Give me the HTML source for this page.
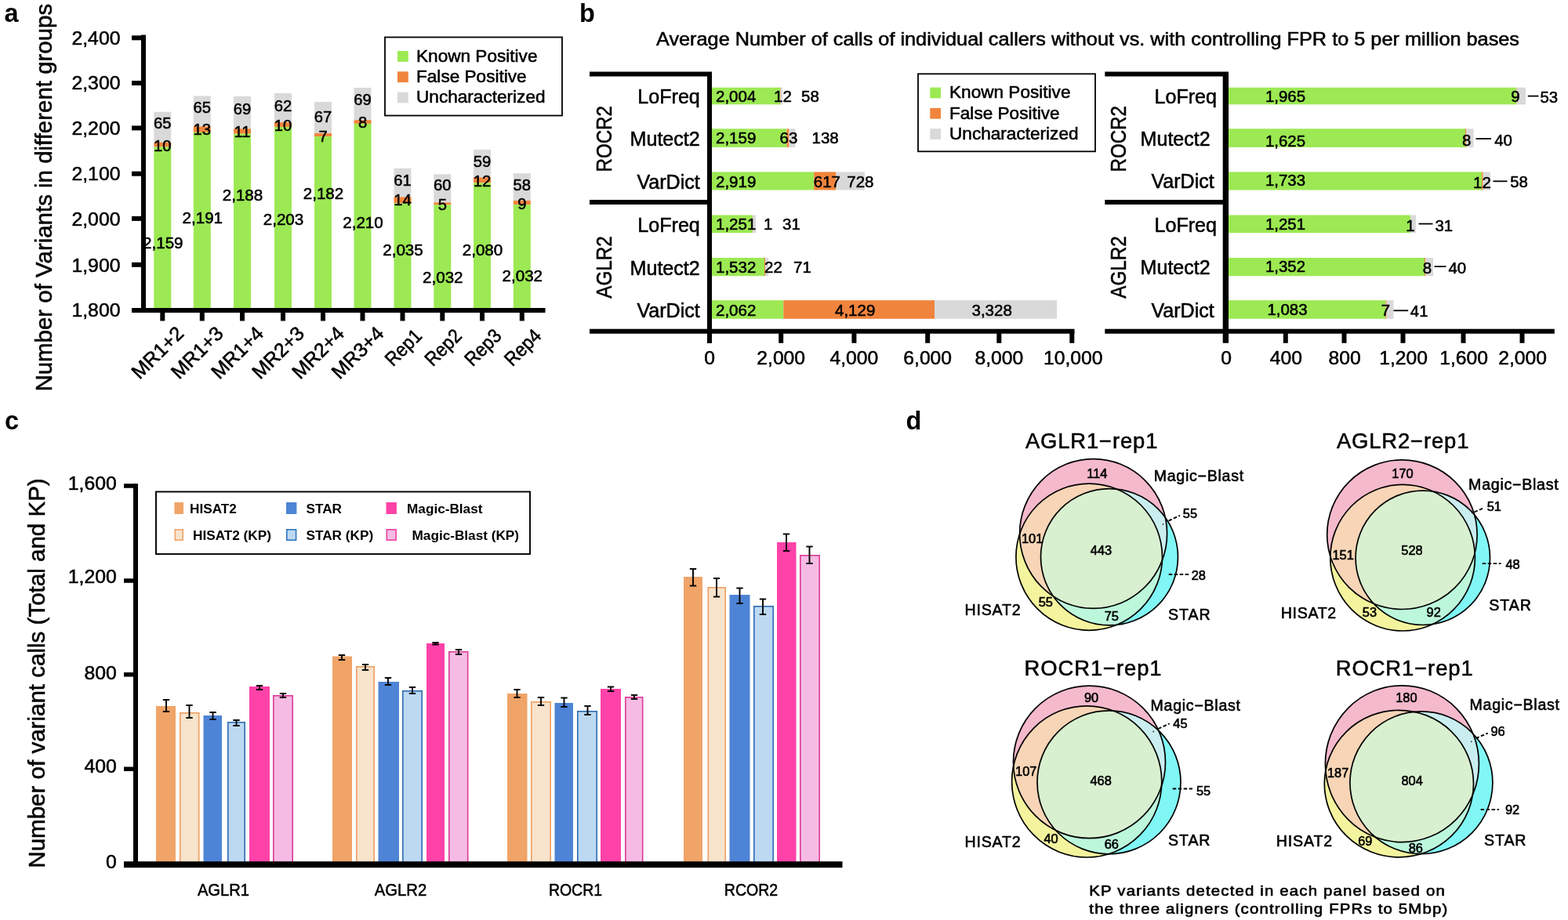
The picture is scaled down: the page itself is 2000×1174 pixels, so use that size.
<!DOCTYPE html>
<html lang="en">
<head>
<meta charset="utf-8">
<title>Figure: variant calls</title>
<style>
html,body{margin:0;padding:0;background:#fff;}
body{width:2000px;height:1174px;overflow:hidden;}
svg{display:block;font-family:'Liberation Sans', sans-serif;fill:#000;}
text{stroke:#000;stroke-width:0.55px;stroke-linejoin:round;}
text[font-weight=bold]{stroke-width:0;}
text.vb{stroke-width:0.6px;}
text.vc{stroke-width:0.6px;}
</style>
</head>
<body>
<svg width="2000" height="1174" viewBox="0 0 2000 1174">
<rect width="2000" height="1174" fill="#fff"/>
<g id="panel-a">
<text x="5.50" y="28.00" font-size="32.5" font-weight="bold">a</text>
<text transform="translate(66.30 252.20) rotate(-90)" font-size="29.45" text-anchor="middle">Number of Variants in different groups</text>
<rect x="196.30" y="142.72" width="22.00" height="38.95" fill="#d9d9d9"/>
<rect x="196.30" y="181.67" width="22.00" height="5.81" fill="#f0843c"/>
<rect x="196.30" y="187.48" width="22.00" height="208.52" fill="#9ce953"/>
<rect x="246.80" y="122.39" width="22.00" height="38.95" fill="#d9d9d9"/>
<rect x="246.80" y="161.34" width="22.00" height="7.55" fill="#f0843c"/>
<rect x="246.80" y="168.89" width="22.00" height="227.11" fill="#9ce953"/>
<rect x="298.00" y="122.97" width="22.00" height="41.28" fill="#d9d9d9"/>
<rect x="298.00" y="164.25" width="22.00" height="6.39" fill="#f0843c"/>
<rect x="298.00" y="170.64" width="22.00" height="225.36" fill="#9ce953"/>
<rect x="350.00" y="118.90" width="22.00" height="37.21" fill="#d9d9d9"/>
<rect x="350.00" y="156.12" width="22.00" height="5.81" fill="#f0843c"/>
<rect x="350.00" y="161.92" width="22.00" height="234.08" fill="#9ce953"/>
<rect x="401.00" y="129.94" width="22.00" height="40.12" fill="#d9d9d9"/>
<rect x="401.00" y="170.06" width="22.00" height="4.07" fill="#f0843c"/>
<rect x="401.00" y="174.12" width="22.00" height="221.88" fill="#9ce953"/>
<rect x="451.50" y="111.93" width="22.00" height="41.28" fill="#d9d9d9"/>
<rect x="451.50" y="153.21" width="22.00" height="4.65" fill="#f0843c"/>
<rect x="451.50" y="157.86" width="22.00" height="238.14" fill="#9ce953"/>
<rect x="502.50" y="214.74" width="22.00" height="36.63" fill="#d9d9d9"/>
<rect x="502.50" y="251.37" width="22.00" height="8.13" fill="#f0843c"/>
<rect x="502.50" y="259.50" width="22.00" height="136.50" fill="#9ce953"/>
<rect x="553.30" y="222.29" width="22.00" height="36.05" fill="#d9d9d9"/>
<rect x="553.30" y="258.34" width="22.00" height="2.90" fill="#f0843c"/>
<rect x="553.30" y="261.25" width="22.00" height="134.75" fill="#9ce953"/>
<rect x="604.00" y="190.93" width="22.00" height="35.47" fill="#d9d9d9"/>
<rect x="604.00" y="226.40" width="22.00" height="6.97" fill="#f0843c"/>
<rect x="604.00" y="233.37" width="22.00" height="162.63" fill="#9ce953"/>
<rect x="654.80" y="221.13" width="22.00" height="34.89" fill="#d9d9d9"/>
<rect x="654.80" y="256.02" width="22.00" height="5.23" fill="#f0843c"/>
<rect x="654.80" y="261.25" width="22.00" height="134.75" fill="#9ce953"/>
<text x="207.30" y="164.20" font-size="20.2" text-anchor="middle">65</text>
<text x="207.30" y="192.80" font-size="20.2" text-anchor="middle">10</text>
<text x="207.80" y="317.20" font-size="20.6" text-anchor="middle">2,159</text>
<text x="257.80" y="144.20" font-size="20.2" text-anchor="middle">65</text>
<text x="257.80" y="172.20" font-size="20.2" text-anchor="middle">13</text>
<text x="258.30" y="284.70" font-size="20.6" text-anchor="middle">2,191</text>
<text x="309.00" y="146.20" font-size="20.2" text-anchor="middle">69</text>
<text x="309.00" y="174.70" font-size="20.2" text-anchor="middle">11</text>
<text x="309.50" y="256.20" font-size="20.6" text-anchor="middle">2,188</text>
<text x="361.00" y="142.20" font-size="20.2" text-anchor="middle">62</text>
<text x="361.00" y="166.60" font-size="20.2" text-anchor="middle">10</text>
<text x="361.50" y="286.70" font-size="20.6" text-anchor="middle">2,203</text>
<text x="412.00" y="156.20" font-size="20.2" text-anchor="middle">67</text>
<text x="412.00" y="181.20" font-size="20.2" text-anchor="middle">7</text>
<text x="412.50" y="254.20" font-size="20.6" text-anchor="middle">2,182</text>
<text x="462.50" y="133.70" font-size="20.2" text-anchor="middle">69</text>
<text x="462.50" y="163.20" font-size="20.2" text-anchor="middle">8</text>
<text x="463.00" y="291.20" font-size="20.6" text-anchor="middle">2,210</text>
<text x="513.50" y="237.20" font-size="20.2" text-anchor="middle">61</text>
<text x="513.50" y="261.60" font-size="20.2" text-anchor="middle">14</text>
<text x="514.00" y="326.20" font-size="20.6" text-anchor="middle">2,035</text>
<text x="564.30" y="242.80" font-size="20.2" text-anchor="middle">60</text>
<text x="564.30" y="267.80" font-size="20.2" text-anchor="middle">5</text>
<text x="564.80" y="361.20" font-size="20.6" text-anchor="middle">2,032</text>
<text x="615.00" y="212.80" font-size="20.2" text-anchor="middle">59</text>
<text x="615.00" y="237.80" font-size="20.2" text-anchor="middle">12</text>
<text x="615.50" y="326.20" font-size="20.6" text-anchor="middle">2,080</text>
<text x="665.80" y="242.80" font-size="20.2" text-anchor="middle">58</text>
<text x="665.80" y="266.60" font-size="20.2" text-anchor="middle">9</text>
<text x="666.30" y="359.20" font-size="20.6" text-anchor="middle">2,032</text>
<line x1="183.00" y1="44.50" x2="183.00" y2="399.00" stroke="#000" stroke-width="6"/>
<line x1="168.00" y1="396.00" x2="695.50" y2="396.00" stroke="#000" stroke-width="6"/>
<line x1="168.00" y1="396.00" x2="183.00" y2="396.00" stroke="#000" stroke-width="6"/>
<text x="153.50" y="403.50" font-size="24.8" text-anchor="end">1,800</text>
<line x1="168.00" y1="337.80" x2="183.00" y2="337.80" stroke="#000" stroke-width="6"/>
<text x="153.50" y="346.90" font-size="24.8" text-anchor="end">1,900</text>
<line x1="168.00" y1="278.90" x2="183.00" y2="278.90" stroke="#000" stroke-width="6"/>
<text x="153.50" y="288.30" font-size="24.8" text-anchor="end">2,000</text>
<line x1="168.00" y1="221.70" x2="183.00" y2="221.70" stroke="#000" stroke-width="6"/>
<text x="153.50" y="230.30" font-size="24.8" text-anchor="end">2,100</text>
<line x1="168.00" y1="163.40" x2="183.00" y2="163.40" stroke="#000" stroke-width="6"/>
<text x="153.50" y="172.20" font-size="24.8" text-anchor="end">2,200</text>
<line x1="168.00" y1="106.00" x2="183.00" y2="106.00" stroke="#000" stroke-width="6"/>
<text x="153.50" y="113.80" font-size="24.8" text-anchor="end">2,300</text>
<line x1="168.00" y1="48.30" x2="183.00" y2="48.30" stroke="#000" stroke-width="6"/>
<text x="153.50" y="56.80" font-size="24.8" text-anchor="end">2,400</text>
<line x1="207.30" y1="396.00" x2="207.30" y2="409.50" stroke="#000" stroke-width="6"/>
<text transform="translate(235.90 427.20) rotate(-45)" font-size="25.2" text-anchor="end">MR1+2</text>
<line x1="257.80" y1="396.00" x2="257.80" y2="409.50" stroke="#000" stroke-width="6"/>
<text transform="translate(286.40 427.20) rotate(-45)" font-size="25.2" text-anchor="end">MR1+3</text>
<line x1="309.00" y1="396.00" x2="309.00" y2="409.50" stroke="#000" stroke-width="6"/>
<text transform="translate(337.60 427.20) rotate(-45)" font-size="25.2" text-anchor="end">MR1+4</text>
<line x1="361.00" y1="396.00" x2="361.00" y2="409.50" stroke="#000" stroke-width="6"/>
<text transform="translate(389.60 427.20) rotate(-45)" font-size="25.2" text-anchor="end">MR2+3</text>
<line x1="412.00" y1="396.00" x2="412.00" y2="409.50" stroke="#000" stroke-width="6"/>
<text transform="translate(440.60 427.20) rotate(-45)" font-size="25.2" text-anchor="end">MR2+4</text>
<line x1="462.50" y1="396.00" x2="462.50" y2="409.50" stroke="#000" stroke-width="6"/>
<text transform="translate(491.10 427.20) rotate(-45)" font-size="25.2" text-anchor="end">MR3+4</text>
<line x1="513.50" y1="396.00" x2="513.50" y2="409.50" stroke="#000" stroke-width="6"/>
<text transform="translate(539.70 430.00) rotate(-45)" font-size="25" text-anchor="end" textLength="54.5" lengthAdjust="spacingAndGlyphs">Rep1</text>
<line x1="564.30" y1="396.00" x2="564.30" y2="409.50" stroke="#000" stroke-width="6"/>
<text transform="translate(590.50 430.00) rotate(-45)" font-size="25" text-anchor="end" textLength="54.5" lengthAdjust="spacingAndGlyphs">Rep2</text>
<line x1="615.00" y1="396.00" x2="615.00" y2="409.50" stroke="#000" stroke-width="6"/>
<text transform="translate(641.20 430.00) rotate(-45)" font-size="25" text-anchor="end" textLength="54.5" lengthAdjust="spacingAndGlyphs">Rep3</text>
<line x1="665.80" y1="396.00" x2="665.80" y2="409.50" stroke="#000" stroke-width="6"/>
<text transform="translate(692.00 430.00) rotate(-45)" font-size="25" text-anchor="end" textLength="54.5" lengthAdjust="spacingAndGlyphs">Rep4</text>
<rect x="491.00" y="47.50" width="226.00" height="100.00" fill="#fff" stroke="#000" stroke-width="1.8"/>
<rect x="507.00" y="65.00" width="13.80" height="13.80" fill="#9ce953"/>
<text x="531.00" y="78.80" font-size="22.6">Known Positive</text>
<rect x="507.00" y="91.30" width="13.80" height="13.80" fill="#f0843c"/>
<text x="531.00" y="105.10" font-size="22.6">False Positive</text>
<rect x="507.00" y="117.60" width="13.80" height="13.80" fill="#d9d9d9"/>
<text x="531.00" y="131.40" font-size="22.6">Uncharacterized</text>
</g>
<g id="panel-b">
<text x="739.00" y="27.50" font-size="32.5" font-weight="bold">b</text>
<text x="837.00" y="58.10" font-size="23.6" textLength="1101" lengthAdjust="spacingAndGlyphs">Average Number of calls of individual callers without vs. with controlling FPR to 5 per million bases</text>
<line x1="752.00" y1="94.40" x2="908.00" y2="94.40" stroke="#000" stroke-width="6"/>
<line x1="752.00" y1="257.90" x2="905.00" y2="257.90" stroke="#000" stroke-width="6"/>
<line x1="752.00" y1="422.80" x2="1370.50" y2="422.80" stroke="#000" stroke-width="6"/>
<line x1="905.00" y1="94.40" x2="905.00" y2="437.80" stroke="#000" stroke-width="6"/>
<rect x="908.00" y="111.70" width="87.00" height="21.60" fill="#9ce953"/>
<rect x="995.00" y="111.70" width="0.60" height="21.60" fill="#f0843c"/>
<rect x="995.60" y="111.70" width="2.70" height="21.60" fill="#d9d9d9"/>
<rect x="908.00" y="164.30" width="95.50" height="23.60" fill="#9ce953"/>
<rect x="1003.50" y="164.30" width="3.00" height="23.60" fill="#f0843c"/>
<rect x="1006.50" y="164.30" width="8.00" height="23.60" fill="#d9d9d9"/>
<rect x="908.00" y="219.40" width="130.20" height="23.10" fill="#9ce953"/>
<rect x="1038.20" y="219.40" width="28.30" height="23.10" fill="#f0843c"/>
<rect x="1066.50" y="219.40" width="36.50" height="23.10" fill="#d9d9d9"/>
<rect x="908.00" y="274.50" width="52.00" height="22.70" fill="#9ce953"/>
<rect x="960.00" y="274.50" width="0.20" height="22.70" fill="#f0843c"/>
<rect x="960.20" y="274.50" width="3.80" height="22.70" fill="#d9d9d9"/>
<rect x="908.00" y="329.00" width="67.00" height="23.20" fill="#9ce953"/>
<rect x="975.00" y="329.00" width="1.00" height="23.20" fill="#f0843c"/>
<rect x="976.00" y="329.00" width="4.00" height="23.20" fill="#d9d9d9"/>
<rect x="908.00" y="383.20" width="91.30" height="23.60" fill="#9ce953"/>
<rect x="999.30" y="383.20" width="192.70" height="23.60" fill="#f0843c"/>
<rect x="1192.00" y="383.20" width="156.00" height="23.60" fill="#d9d9d9"/>
<text x="913.00" y="130.30" font-size="20.5">2,004</text>
<text x="987.00" y="130.30" font-size="20.5">12</text>
<text x="1022.00" y="130.30" font-size="20.5">58</text>
<text x="913.00" y="183.20" font-size="20.5">2,159</text>
<text x="994.50" y="183.20" font-size="20.5">63</text>
<text x="1035.50" y="183.20" font-size="20.5">138</text>
<text x="913.00" y="238.70" font-size="20.5">2,919</text>
<text x="1037.80" y="238.70" font-size="20.5">617</text>
<text x="1080.30" y="238.70" font-size="20.5">728</text>
<text x="913.00" y="292.90" font-size="20.5">1,251</text>
<text x="974.00" y="292.90" font-size="20.5">1</text>
<text x="998.00" y="292.90" font-size="20.5">31</text>
<text x="913.00" y="347.50" font-size="20.5">1,532</text>
<text x="975.00" y="347.50" font-size="20.5">22</text>
<text x="1012.00" y="347.50" font-size="20.5">71</text>
<text x="913.00" y="402.70" font-size="20.5">2,062</text>
<text x="1065.00" y="402.70" font-size="20.5">4,129</text>
<text x="1239.50" y="402.70" font-size="20.5">3,328</text>
<text x="892.80" y="132.40" font-size="25.1" text-anchor="end">LoFreq</text>
<text x="892.80" y="186.00" font-size="25.1" text-anchor="end">Mutect2</text>
<text x="892.80" y="240.80" font-size="25.1" text-anchor="end">VarDict</text>
<text x="892.80" y="296.00" font-size="25.1" text-anchor="end">LoFreq</text>
<text x="892.80" y="350.60" font-size="25.1" text-anchor="end">Mutect2</text>
<text x="892.80" y="405.20" font-size="25.1" text-anchor="end">VarDict</text>
<text transform="translate(780.30 177.30) rotate(-90)" font-size="27.5" text-anchor="middle" textLength="84.5" lengthAdjust="spacingAndGlyphs">ROCR2</text>
<text transform="translate(780.30 341.00) rotate(-90)" font-size="27.5" text-anchor="middle" textLength="79.5" lengthAdjust="spacingAndGlyphs">AGLR2</text>
<line x1="905.00" y1="422.80" x2="905.00" y2="437.80" stroke="#000" stroke-width="6"/>
<text x="905.00" y="465.20" font-size="24.7" text-anchor="middle">0</text>
<line x1="996.20" y1="422.80" x2="996.20" y2="437.80" stroke="#000" stroke-width="6"/>
<text x="996.20" y="465.20" font-size="24.7" text-anchor="middle">2,000</text>
<line x1="1089.40" y1="422.80" x2="1089.40" y2="437.80" stroke="#000" stroke-width="6"/>
<text x="1089.40" y="465.20" font-size="24.7" text-anchor="middle">4,000</text>
<line x1="1183.20" y1="422.80" x2="1183.20" y2="437.80" stroke="#000" stroke-width="6"/>
<text x="1183.20" y="465.20" font-size="24.7" text-anchor="middle">6,000</text>
<line x1="1274.30" y1="422.80" x2="1274.30" y2="437.80" stroke="#000" stroke-width="6"/>
<text x="1274.30" y="465.20" font-size="24.7" text-anchor="middle">8,000</text>
<line x1="1367.30" y1="422.80" x2="1367.30" y2="437.80" stroke="#000" stroke-width="6"/>
<text x="1368.80" y="465.20" font-size="24.7" text-anchor="middle">10,000</text>
<rect x="1171.00" y="94.30" width="226.00" height="99.00" fill="#fff" stroke="#000" stroke-width="1.8"/>
<rect x="1186.30" y="111.60" width="13.70" height="13.70" fill="#9ce953"/>
<text x="1211.00" y="125.40" font-size="22.6">Known Positive</text>
<rect x="1186.30" y="137.90" width="13.70" height="13.70" fill="#f0843c"/>
<text x="1211.00" y="151.70" font-size="22.6">False Positive</text>
<rect x="1186.30" y="164.20" width="13.70" height="13.70" fill="#d9d9d9"/>
<text x="1211.00" y="178.00" font-size="22.6">Uncharacterized</text>
<line x1="1409.30" y1="94.40" x2="1567.00" y2="94.40" stroke="#000" stroke-width="6"/>
<line x1="1409.30" y1="257.90" x2="1563.00" y2="257.90" stroke="#000" stroke-width="6"/>
<line x1="1409.30" y1="422.80" x2="1982.80" y2="422.80" stroke="#000" stroke-width="6"/>
<line x1="1563.40" y1="94.40" x2="1563.40" y2="437.80" stroke="#000" stroke-width="7.4"/>
<rect x="1567.00" y="111.70" width="367.00" height="21.60" fill="#9ce953"/>
<rect x="1934.00" y="111.70" width="0.60" height="21.60" fill="#f0843c"/>
<rect x="1934.60" y="111.70" width="11.40" height="21.60" fill="#d9d9d9"/>
<rect x="1567.00" y="164.30" width="302.00" height="23.60" fill="#9ce953"/>
<rect x="1869.00" y="164.30" width="1.30" height="23.60" fill="#f0843c"/>
<rect x="1870.30" y="164.30" width="9.20" height="23.60" fill="#d9d9d9"/>
<rect x="1567.00" y="219.40" width="323.00" height="23.10" fill="#9ce953"/>
<rect x="1890.00" y="219.40" width="1.60" height="23.10" fill="#f0843c"/>
<rect x="1891.60" y="219.40" width="9.40" height="23.10" fill="#d9d9d9"/>
<rect x="1567.00" y="274.50" width="232.00" height="22.70" fill="#9ce953"/>
<rect x="1799.00" y="274.50" width="0.30" height="22.70" fill="#f0843c"/>
<rect x="1799.30" y="274.50" width="6.70" height="22.70" fill="#d9d9d9"/>
<rect x="1567.00" y="329.00" width="250.00" height="23.20" fill="#9ce953"/>
<rect x="1817.00" y="329.00" width="1.20" height="23.20" fill="#f0843c"/>
<rect x="1818.20" y="329.00" width="9.80" height="23.20" fill="#d9d9d9"/>
<rect x="1567.00" y="383.20" width="200.50" height="23.60" fill="#9ce953"/>
<rect x="1767.50" y="383.20" width="1.10" height="23.60" fill="#f0843c"/>
<rect x="1768.60" y="383.20" width="8.90" height="23.60" fill="#d9d9d9"/>
<text x="1614.00" y="130.30" font-size="20.4">1,965</text>
<text x="1932.90" y="130.00" font-size="20.4" text-anchor="middle">9</text>
<line x1="1948.80" y1="122.60" x2="1962.50" y2="122.60" stroke="#000" stroke-width="1.8"/>
<text x="1964.50" y="131.40" font-size="20.4">53</text>
<text x="1614.00" y="186.80" font-size="20.4">1,625</text>
<text x="1870.60" y="186.00" font-size="20.4" text-anchor="middle">8</text>
<line x1="1882.50" y1="177.00" x2="1902.00" y2="177.00" stroke="#000" stroke-width="1.8"/>
<text x="1906.20" y="186.40" font-size="20.4">40</text>
<text x="1614.00" y="236.90" font-size="20.4">1,733</text>
<text x="1890.40" y="240.40" font-size="20.4" text-anchor="middle">12</text>
<line x1="1904.50" y1="231.30" x2="1922.50" y2="231.30" stroke="#000" stroke-width="1.8"/>
<text x="1926.20" y="239.40" font-size="20.4">58</text>
<text x="1614.00" y="292.60" font-size="20.4">1,251</text>
<text x="1798.80" y="294.50" font-size="20.4" text-anchor="middle">1</text>
<line x1="1809.50" y1="285.60" x2="1827.50" y2="285.60" stroke="#000" stroke-width="1.8"/>
<text x="1830.50" y="295.00" font-size="20.4">31</text>
<text x="1614.00" y="347.00" font-size="20.4">1,352</text>
<text x="1820.40" y="348.80" font-size="20.4" text-anchor="middle">8</text>
<line x1="1829.50" y1="340.10" x2="1844.50" y2="340.10" stroke="#000" stroke-width="1.8"/>
<text x="1847.50" y="349.20" font-size="20.4">40</text>
<text x="1616.50" y="401.80" font-size="20.4">1,083</text>
<text x="1767.50" y="403.40" font-size="20.4" text-anchor="middle">7</text>
<line x1="1777.50" y1="396.30" x2="1796.20" y2="396.30" stroke="#000" stroke-width="1.8"/>
<text x="1798.80" y="404.20" font-size="20.4">41</text>
<text x="1552.00" y="131.90" font-size="25.1" text-anchor="end">LoFreq</text>
<text x="1543.80" y="185.50" font-size="25.1" text-anchor="end">Mutect2</text>
<text x="1548.80" y="240.30" font-size="25.1" text-anchor="end">VarDict</text>
<text x="1552.00" y="295.50" font-size="25.1" text-anchor="end">LoFreq</text>
<text x="1543.80" y="350.10" font-size="25.1" text-anchor="end">Mutect2</text>
<text x="1548.80" y="404.70" font-size="25.1" text-anchor="end">VarDict</text>
<text transform="translate(1436.00 177.30) rotate(-90)" font-size="27.5" text-anchor="middle" textLength="84.5" lengthAdjust="spacingAndGlyphs">ROCR2</text>
<text transform="translate(1436.00 341.00) rotate(-90)" font-size="27.5" text-anchor="middle" textLength="79.5" lengthAdjust="spacingAndGlyphs">AGLR2</text>
<text x="1564.00" y="465.20" font-size="24.7" text-anchor="middle">0</text>
<line x1="1639.80" y1="422.80" x2="1639.80" y2="437.80" stroke="#000" stroke-width="6"/>
<text x="1640.40" y="465.20" font-size="24.7" text-anchor="middle">400</text>
<line x1="1714.50" y1="422.80" x2="1714.50" y2="437.80" stroke="#000" stroke-width="6"/>
<text x="1715.10" y="465.20" font-size="24.7" text-anchor="middle">800</text>
<line x1="1789.50" y1="422.80" x2="1789.50" y2="437.80" stroke="#000" stroke-width="6"/>
<text x="1790.10" y="465.20" font-size="24.7" text-anchor="middle">1,200</text>
<line x1="1866.50" y1="422.80" x2="1866.50" y2="437.80" stroke="#000" stroke-width="6"/>
<text x="1867.10" y="465.20" font-size="24.7" text-anchor="middle">1,600</text>
<line x1="1941.50" y1="422.80" x2="1941.50" y2="437.80" stroke="#000" stroke-width="6"/>
<text x="1942.10" y="465.20" font-size="24.7" text-anchor="middle">2,000</text>
</g>
<g id="panel-c">
<text x="6.00" y="547.50" font-size="32.5" font-weight="bold">c</text>
<text transform="translate(57.00 859.00) rotate(-90)" font-size="29.54" text-anchor="middle">Number of variant calls (Total and KP)</text>
<rect x="199.00" y="901.00" width="25.00" height="201.50" fill="#f0a468"/>
<rect x="229.80" y="909.80" width="23.90" height="192.70" fill="#f8e3cc" stroke="#ee9f62" stroke-width="1.6"/>
<rect x="259.50" y="913.00" width="23.50" height="189.50" fill="#4e84d6"/>
<rect x="290.80" y="921.80" width="21.40" height="180.70" fill="#bdd9f2" stroke="#2c6cb4" stroke-width="1.6"/>
<rect x="318.00" y="876.00" width="26.00" height="226.50" fill="#ff42a8"/>
<rect x="348.80" y="887.80" width="24.40" height="214.70" fill="#f6bbe4" stroke="#dc3a96" stroke-width="1.6"/>
<line x1="212.00" y1="893.00" x2="212.00" y2="908.00" stroke="#000" stroke-width="1.9"/>
<line x1="207.80" y1="893.00" x2="216.20" y2="893.00" stroke="#000" stroke-width="1.9"/>
<line x1="207.80" y1="908.00" x2="216.20" y2="908.00" stroke="#000" stroke-width="1.9"/>
<line x1="241.50" y1="900.00" x2="241.50" y2="916.00" stroke="#000" stroke-width="1.9"/>
<line x1="237.30" y1="900.00" x2="245.70" y2="900.00" stroke="#000" stroke-width="1.9"/>
<line x1="237.30" y1="916.00" x2="245.70" y2="916.00" stroke="#000" stroke-width="1.9"/>
<line x1="271.50" y1="909.00" x2="271.50" y2="918.00" stroke="#000" stroke-width="1.9"/>
<line x1="267.30" y1="909.00" x2="275.70" y2="909.00" stroke="#000" stroke-width="1.9"/>
<line x1="267.30" y1="918.00" x2="275.70" y2="918.00" stroke="#000" stroke-width="1.9"/>
<line x1="301.50" y1="919.00" x2="301.50" y2="926.00" stroke="#000" stroke-width="1.9"/>
<line x1="297.30" y1="919.00" x2="305.70" y2="919.00" stroke="#000" stroke-width="1.9"/>
<line x1="297.30" y1="926.00" x2="305.70" y2="926.00" stroke="#000" stroke-width="1.9"/>
<line x1="331.00" y1="875.00" x2="331.00" y2="880.00" stroke="#000" stroke-width="1.9"/>
<line x1="326.80" y1="875.00" x2="335.20" y2="875.00" stroke="#000" stroke-width="1.9"/>
<line x1="326.80" y1="880.00" x2="335.20" y2="880.00" stroke="#000" stroke-width="1.9"/>
<line x1="361.00" y1="885.00" x2="361.00" y2="890.00" stroke="#000" stroke-width="1.9"/>
<line x1="356.80" y1="885.00" x2="365.20" y2="885.00" stroke="#000" stroke-width="1.9"/>
<line x1="356.80" y1="890.00" x2="365.20" y2="890.00" stroke="#000" stroke-width="1.9"/>
<text x="285.00" y="1143.30" font-size="21.6" text-anchor="middle" textLength="66.2" lengthAdjust="spacingAndGlyphs">AGLR1</text>
<rect x="424.00" y="837.50" width="25.00" height="265.00" fill="#f0a468"/>
<rect x="454.80" y="850.80" width="22.40" height="251.70" fill="#f8e3cc" stroke="#ee9f62" stroke-width="1.6"/>
<rect x="482.50" y="870.00" width="26.50" height="232.50" fill="#4e84d6"/>
<rect x="513.80" y="881.80" width="24.40" height="220.70" fill="#bdd9f2" stroke="#2c6cb4" stroke-width="1.6"/>
<rect x="544.00" y="821.00" width="23.00" height="281.50" fill="#ff42a8"/>
<rect x="572.80" y="831.80" width="23.90" height="270.70" fill="#f6bbe4" stroke="#dc3a96" stroke-width="1.6"/>
<line x1="436.00" y1="836.00" x2="436.00" y2="842.00" stroke="#000" stroke-width="1.9"/>
<line x1="431.80" y1="836.00" x2="440.20" y2="836.00" stroke="#000" stroke-width="1.9"/>
<line x1="431.80" y1="842.00" x2="440.20" y2="842.00" stroke="#000" stroke-width="1.9"/>
<line x1="466.00" y1="848.00" x2="466.00" y2="855.00" stroke="#000" stroke-width="1.9"/>
<line x1="461.80" y1="848.00" x2="470.20" y2="848.00" stroke="#000" stroke-width="1.9"/>
<line x1="461.80" y1="855.00" x2="470.20" y2="855.00" stroke="#000" stroke-width="1.9"/>
<line x1="495.00" y1="865.00" x2="495.00" y2="874.00" stroke="#000" stroke-width="1.9"/>
<line x1="490.80" y1="865.00" x2="499.20" y2="865.00" stroke="#000" stroke-width="1.9"/>
<line x1="490.80" y1="874.00" x2="499.20" y2="874.00" stroke="#000" stroke-width="1.9"/>
<line x1="526.00" y1="877.00" x2="526.00" y2="885.00" stroke="#000" stroke-width="1.9"/>
<line x1="521.80" y1="877.00" x2="530.20" y2="877.00" stroke="#000" stroke-width="1.9"/>
<line x1="521.80" y1="885.00" x2="530.20" y2="885.00" stroke="#000" stroke-width="1.9"/>
<line x1="555.50" y1="820.00" x2="555.50" y2="822.50" stroke="#000" stroke-width="1.9"/>
<line x1="551.30" y1="820.00" x2="559.70" y2="820.00" stroke="#000" stroke-width="1.9"/>
<line x1="551.30" y1="822.50" x2="559.70" y2="822.50" stroke="#000" stroke-width="1.9"/>
<line x1="585.00" y1="829.00" x2="585.00" y2="835.00" stroke="#000" stroke-width="1.9"/>
<line x1="580.80" y1="829.00" x2="589.20" y2="829.00" stroke="#000" stroke-width="1.9"/>
<line x1="580.80" y1="835.00" x2="589.20" y2="835.00" stroke="#000" stroke-width="1.9"/>
<text x="511.00" y="1143.30" font-size="21.6" text-anchor="middle" textLength="66.5" lengthAdjust="spacingAndGlyphs">AGLR2</text>
<rect x="647.00" y="885.00" width="25.50" height="217.50" fill="#f0a468"/>
<rect x="677.80" y="895.80" width="24.40" height="206.70" fill="#f8e3cc" stroke="#ee9f62" stroke-width="1.6"/>
<rect x="707.50" y="897.00" width="23.50" height="205.50" fill="#4e84d6"/>
<rect x="736.80" y="907.80" width="24.40" height="194.70" fill="#bdd9f2" stroke="#2c6cb4" stroke-width="1.6"/>
<rect x="766.00" y="879.00" width="26.00" height="223.50" fill="#ff42a8"/>
<rect x="797.80" y="889.80" width="21.90" height="212.70" fill="#f6bbe4" stroke="#dc3a96" stroke-width="1.6"/>
<line x1="659.50" y1="880.00" x2="659.50" y2="890.00" stroke="#000" stroke-width="1.9"/>
<line x1="655.30" y1="880.00" x2="663.70" y2="880.00" stroke="#000" stroke-width="1.9"/>
<line x1="655.30" y1="890.00" x2="663.70" y2="890.00" stroke="#000" stroke-width="1.9"/>
<line x1="690.00" y1="890.00" x2="690.00" y2="900.00" stroke="#000" stroke-width="1.9"/>
<line x1="685.80" y1="890.00" x2="694.20" y2="890.00" stroke="#000" stroke-width="1.9"/>
<line x1="685.80" y1="900.00" x2="694.20" y2="900.00" stroke="#000" stroke-width="1.9"/>
<line x1="719.50" y1="890.50" x2="719.50" y2="902.00" stroke="#000" stroke-width="1.9"/>
<line x1="715.30" y1="890.50" x2="723.70" y2="890.50" stroke="#000" stroke-width="1.9"/>
<line x1="715.30" y1="902.00" x2="723.70" y2="902.00" stroke="#000" stroke-width="1.9"/>
<line x1="749.50" y1="901.00" x2="749.50" y2="912.00" stroke="#000" stroke-width="1.9"/>
<line x1="745.30" y1="901.00" x2="753.70" y2="901.00" stroke="#000" stroke-width="1.9"/>
<line x1="745.30" y1="912.00" x2="753.70" y2="912.00" stroke="#000" stroke-width="1.9"/>
<line x1="779.00" y1="876.50" x2="779.00" y2="882.00" stroke="#000" stroke-width="1.9"/>
<line x1="774.80" y1="876.50" x2="783.20" y2="876.50" stroke="#000" stroke-width="1.9"/>
<line x1="774.80" y1="882.00" x2="783.20" y2="882.00" stroke="#000" stroke-width="1.9"/>
<line x1="809.00" y1="887.00" x2="809.00" y2="892.00" stroke="#000" stroke-width="1.9"/>
<line x1="804.80" y1="887.00" x2="813.20" y2="887.00" stroke="#000" stroke-width="1.9"/>
<line x1="804.80" y1="892.00" x2="813.20" y2="892.00" stroke="#000" stroke-width="1.9"/>
<text x="734.00" y="1143.30" font-size="21.6" text-anchor="middle" textLength="68.2" lengthAdjust="spacingAndGlyphs">ROCR1</text>
<rect x="872.00" y="736.00" width="24.00" height="366.50" fill="#f0a468"/>
<rect x="903.30" y="749.80" width="21.90" height="352.70" fill="#f8e3cc" stroke="#ee9f62" stroke-width="1.6"/>
<rect x="930.50" y="759.00" width="26.00" height="343.50" fill="#4e84d6"/>
<rect x="961.80" y="773.80" width="24.40" height="328.70" fill="#bdd9f2" stroke="#2c6cb4" stroke-width="1.6"/>
<rect x="991.00" y="692.00" width="24.50" height="410.50" fill="#ff42a8"/>
<rect x="1020.80" y="708.80" width="24.40" height="393.70" fill="#f6bbe4" stroke="#dc3a96" stroke-width="1.6"/>
<line x1="884.00" y1="726.00" x2="884.00" y2="747.50" stroke="#000" stroke-width="1.9"/>
<line x1="879.80" y1="726.00" x2="888.20" y2="726.00" stroke="#000" stroke-width="1.9"/>
<line x1="879.80" y1="747.50" x2="888.20" y2="747.50" stroke="#000" stroke-width="1.9"/>
<line x1="914.00" y1="738.00" x2="914.00" y2="761.50" stroke="#000" stroke-width="1.9"/>
<line x1="909.80" y1="738.00" x2="918.20" y2="738.00" stroke="#000" stroke-width="1.9"/>
<line x1="909.80" y1="761.50" x2="918.20" y2="761.50" stroke="#000" stroke-width="1.9"/>
<line x1="943.50" y1="750.50" x2="943.50" y2="770.00" stroke="#000" stroke-width="1.9"/>
<line x1="939.30" y1="750.50" x2="947.70" y2="750.50" stroke="#000" stroke-width="1.9"/>
<line x1="939.30" y1="770.00" x2="947.70" y2="770.00" stroke="#000" stroke-width="1.9"/>
<line x1="973.00" y1="764.50" x2="973.00" y2="784.00" stroke="#000" stroke-width="1.9"/>
<line x1="968.80" y1="764.50" x2="977.20" y2="764.50" stroke="#000" stroke-width="1.9"/>
<line x1="968.80" y1="784.00" x2="977.20" y2="784.00" stroke="#000" stroke-width="1.9"/>
<line x1="1003.00" y1="681.50" x2="1003.00" y2="703.00" stroke="#000" stroke-width="1.9"/>
<line x1="998.80" y1="681.50" x2="1007.20" y2="681.50" stroke="#000" stroke-width="1.9"/>
<line x1="998.80" y1="703.00" x2="1007.20" y2="703.00" stroke="#000" stroke-width="1.9"/>
<line x1="1032.50" y1="697.50" x2="1032.50" y2="719.00" stroke="#000" stroke-width="1.9"/>
<line x1="1028.30" y1="697.50" x2="1036.70" y2="697.50" stroke="#000" stroke-width="1.9"/>
<line x1="1028.30" y1="719.00" x2="1036.70" y2="719.00" stroke="#000" stroke-width="1.9"/>
<text x="958.00" y="1143.30" font-size="21.6" text-anchor="middle" textLength="68.5" lengthAdjust="spacingAndGlyphs">RCOR2</text>
<line x1="173.00" y1="617.30" x2="173.00" y2="1107.00" stroke="#000" stroke-width="6"/>
<line x1="158.00" y1="1103.20" x2="1074.50" y2="1103.20" stroke="#000" stroke-width="8"/>
<text x="148.80" y="1107.90" font-size="24.8" text-anchor="end">0</text>
<line x1="158.00" y1="981.30" x2="173.00" y2="981.30" stroke="#000" stroke-width="5.5"/>
<text x="148.80" y="985.70" font-size="24.8" text-anchor="end">400</text>
<line x1="158.00" y1="860.80" x2="173.00" y2="860.80" stroke="#000" stroke-width="5.5"/>
<text x="148.80" y="866.80" font-size="24.8" text-anchor="end">800</text>
<line x1="158.00" y1="741.00" x2="173.00" y2="741.00" stroke="#000" stroke-width="5.5"/>
<text x="148.80" y="744.20" font-size="24.8" text-anchor="end">1,200</text>
<line x1="158.00" y1="620.00" x2="173.00" y2="620.00" stroke="#000" stroke-width="5.5"/>
<text x="148.80" y="624.80" font-size="24.8" text-anchor="end">1,600</text>
<rect x="199.00" y="627.50" width="477.00" height="79.50" fill="#fff" stroke="#000" stroke-width="1.9"/>
<rect x="222.50" y="641.00" width="11.50" height="15.00" fill="#f0a468"/>
<text x="242.00" y="655.00" font-size="17.2" font-weight="bold">HISAT2</text>
<rect x="223.30" y="675.80" width="9.90" height="13.40" fill="#f8e3cc" stroke="#f0a468" stroke-width="1.6"/>
<text x="246.00" y="689.00" font-size="17.2" font-weight="bold">HISAT2 (KP)</text>
<rect x="365.00" y="641.00" width="13.40" height="15.00" fill="#4e84d6"/>
<text x="390.50" y="655.00" font-size="17.2" font-weight="bold">STAR</text>
<rect x="365.80" y="675.80" width="11.80" height="13.40" fill="#bdd9f2" stroke="#2f76c0" stroke-width="1.6"/>
<text x="390.50" y="689.00" font-size="17.2" font-weight="bold">STAR (KP)</text>
<rect x="492.50" y="641.00" width="13.40" height="15.00" fill="#ff42a8"/>
<text x="519.00" y="655.00" font-size="17.2" font-weight="bold">Magic-Blast</text>
<rect x="493.30" y="675.80" width="11.80" height="13.40" fill="#f6bbe4" stroke="#ec3f9e" stroke-width="1.6"/>
<text x="525.50" y="689.00" font-size="17.2" font-weight="bold">Magic-Blast (KP)</text>
</g>
<g id="panel-d">
<text x="1155.50" y="547.60" font-size="32.5" font-weight="bold">d</text>
<ellipse cx="1394.6" cy="681" rx="94" ry="95.4" fill="#f5b9cc"/>
<ellipse cx="1389.2" cy="710.7" rx="93.3" ry="93.6" fill="#f4f49e"/>
<ellipse cx="1415" cy="710.8" rx="87.5" ry="87.1" fill="#80f7f5"/>
<path d="M1301.8 695.9L1301.4 693.5L1301.1 691.0L1300.9 688.5L1300.7 686.0L1300.6 683.5L1301.3 679.5L1302.1 677.2L1303.0 674.9L1304.0 672.6L1305.0 670.4L1306.1 668.2L1307.2 666.0L1308.4 663.9L1309.6 661.8L1311.0 659.7L1312.3 657.7L1313.7 655.7L1315.2 653.7L1316.7 651.8L1318.3 649.9L1319.9 648.1L1321.5 646.3L1323.2 644.5L1325.0 642.8L1326.8 641.1L1328.6 639.5L1330.5 638.0L1332.4 636.4L1334.4 635.0L1336.4 633.6L1338.4 632.2L1340.5 630.9L1342.5 629.6L1344.7 628.4L1346.8 627.3L1349.0 626.2L1351.3 625.2L1353.5 624.2L1355.8 623.3L1358.1 622.5L1360.4 621.7L1362.7 621.0L1365.1 620.3L1367.4 619.7L1369.8 619.1L1372.2 618.7L1374.6 618.3L1377.0 617.9L1379.4 617.6L1381.9 617.4L1384.3 617.2L1386.8 617.1L1389.2 617.1L1391.6 617.1L1394.1 617.2L1396.5 617.4L1399.0 617.6L1401.4 617.9L1403.8 618.3L1406.2 618.7L1408.6 619.1L1411.0 619.7L1413.3 620.3L1415.7 621.0L1418.0 621.7L1420.3 622.5L1422.6 623.3L1424.9 624.2L1427.1 625.2L1429.4 626.2L1431.6 627.3L1433.7 628.4L1435.9 629.6L1437.9 630.9L1440.0 632.2L1442.0 633.6L1444.0 635.0L1446.0 636.4L1447.9 638.0L1449.8 639.5L1451.6 641.1L1453.4 642.8L1455.2 644.5L1456.9 646.3L1458.5 648.1L1460.1 649.9L1461.7 651.8L1463.2 653.7L1464.7 655.7L1466.1 657.7L1467.4 659.7L1468.8 661.8L1470.0 663.9L1471.2 666.0L1472.3 668.2L1473.4 670.4L1474.4 672.6L1475.4 674.9L1476.3 677.2L1477.1 679.5L1477.9 681.8L1478.7 684.1L1479.3 686.5L1479.9 688.8L1480.5 691.2L1480.9 693.6L1481.4 696.1L1481.7 698.5L1482.0 700.9L1482.2 703.4L1482.4 705.8L1482.5 708.2L1482.5 710.7L1482.5 713.2L1482.4 715.2L1481.4 717.5L1480.5 719.8L1479.4 722.1L1478.4 724.3L1477.2 726.5L1476.0 728.7L1474.7 730.8L1473.4 733.0L1472.1 735.0L1470.6 737.1L1469.2 739.1L1467.7 741.0L1466.1 743.0L1464.5 744.8L1462.8 746.7L1461.1 748.5L1459.3 750.2L1457.5 751.9L1455.6 753.5L1453.8 755.1L1451.8 756.7L1449.9 758.2L1447.8 759.6L1445.8 761.0L1443.7 762.3L1441.6 763.6L1439.5 764.8L1437.3 766.0L1435.1 767.1L1432.8 768.2L1430.6 769.1L1428.3 770.1L1426.0 770.9L1423.6 771.7L1421.3 772.5L1418.9 773.1L1416.5 773.8L1414.1 774.3L1411.7 774.8L1409.3 775.2L1406.9 775.6L1404.4 775.9L1402.0 776.1L1399.5 776.3L1397.1 776.4L1394.6 776.4L1392.1 776.4L1389.7 776.3L1387.2 776.1L1384.8 775.9L1382.3 775.6L1379.9 775.2L1377.5 774.8L1375.1 774.3L1372.7 773.8L1370.3 773.1L1367.9 772.5L1365.6 771.7L1363.2 770.9L1360.9 770.1L1358.6 769.1L1356.4 768.2L1354.1 767.1L1351.9 766.0L1349.7 764.8L1347.6 763.6L1345.5 762.3L1343.4 761.0L1341.4 759.6L1339.3 758.2L1337.4 756.7L1335.4 755.1L1333.6 753.5L1331.7 751.9L1329.9 750.2L1328.1 748.5L1326.4 746.7L1324.7 744.8L1323.1 743.0L1321.5 741.0L1320.0 739.1L1318.6 737.1L1317.1 735.0L1315.8 733.0L1314.5 730.8L1313.2 728.7L1312.0 726.5L1310.8 724.3L1309.8 722.1L1308.7 719.8L1307.8 717.5L1306.8 715.2L1306.0 712.8L1305.2 710.5L1304.5 708.1L1303.8 705.7L1303.2 703.3L1302.7 700.8L1302.2 698.4Z" fill="#f7d5b6"/>
<path d="M1328.6 697.2L1329.0 694.9L1329.4 692.7L1329.9 690.5L1330.5 688.3L1331.1 686.1L1331.8 683.9L1332.5 681.7L1333.3 679.6L1334.2 677.5L1335.1 675.4L1336.0 673.3L1337.0 671.3L1338.1 669.2L1339.2 667.2L1340.4 665.3L1341.6 663.4L1342.9 661.5L1344.2 659.6L1345.6 657.8L1347.0 656.0L1348.5 654.2L1350.0 652.5L1351.5 650.8L1353.1 649.2L1354.8 647.6L1356.5 646.1L1358.2 644.6L1359.9 643.1L1361.7 641.7L1363.6 640.3L1365.4 639.0L1367.3 637.8L1369.3 636.5L1371.2 635.4L1373.2 634.3L1375.3 633.2L1377.3 632.2L1379.4 631.2L1381.5 630.3L1383.6 629.5L1385.8 628.7L1388.0 628.0L1390.1 627.3L1392.4 626.7L1394.6 626.1L1396.8 625.6L1399.1 625.2L1401.3 624.8L1403.6 624.4L1405.9 624.2L1408.1 624.0L1410.4 623.8L1412.7 623.7L1415.0 623.7L1417.3 623.7L1419.6 623.8L1421.9 624.0L1424.1 624.2L1426.4 624.4L1428.7 624.8L1430.9 625.2L1433.2 625.6L1435.4 626.1L1437.6 626.7L1439.9 627.3L1442.0 628.0L1444.2 628.7L1446.4 629.5L1448.5 630.3L1450.6 631.2L1452.7 632.2L1454.7 633.2L1456.8 634.3L1458.8 635.4L1460.7 636.5L1462.7 637.8L1464.6 639.0L1466.4 640.3L1468.3 641.7L1470.1 643.1L1471.8 644.6L1473.5 646.1L1475.2 647.6L1476.9 649.2L1478.5 650.8L1480.0 652.5L1481.5 654.2L1483.0 656.0L1484.4 657.8L1485.8 659.6L1486.5 661.2L1487.0 663.6L1487.4 666.1L1487.8 668.5L1488.1 671.0L1488.3 673.5L1488.5 676.0L1488.6 678.5L1488.6 681.0L1488.6 683.5L1488.5 686.0L1488.3 688.5L1488.1 691.0L1487.8 693.5L1487.4 695.9L1487.0 698.4L1486.5 700.8L1486.0 703.3L1485.4 705.7L1484.7 708.1L1484.0 710.5L1483.2 712.8L1482.4 715.2L1481.4 717.5L1480.5 719.8L1479.4 722.1L1478.4 724.3L1477.2 726.5L1476.0 728.7L1474.7 730.8L1473.4 733.0L1472.1 735.0L1470.6 737.1L1469.2 739.1L1467.7 741.0L1466.1 743.0L1464.5 744.8L1462.8 746.7L1461.1 748.5L1459.3 750.2L1457.5 751.9L1455.6 753.5L1453.8 755.1L1451.8 756.7L1449.9 758.2L1447.8 759.6L1445.8 761.0L1443.7 762.3L1441.6 763.6L1439.5 764.8L1437.3 766.0L1435.1 767.1L1432.8 768.2L1430.6 769.1L1428.3 770.1L1426.0 770.9L1423.6 771.7L1421.3 772.5L1418.9 773.1L1416.5 773.8L1414.1 774.3L1411.7 774.8L1409.3 775.2L1406.9 775.6L1404.4 775.9L1402.0 776.1L1399.5 776.3L1397.1 776.4L1394.6 776.4L1392.1 776.4L1389.7 776.3L1387.2 776.1L1384.8 775.9L1382.3 775.6L1379.9 775.2L1377.5 774.8L1375.1 774.3L1372.7 773.8L1370.3 773.1L1367.9 772.5L1365.6 771.7L1363.2 770.9L1360.9 770.1L1358.6 769.1L1356.4 768.2L1354.1 767.1L1351.9 766.0L1349.7 764.8L1347.6 763.6L1345.5 762.3L1342.9 760.1L1341.6 758.2L1340.4 756.3L1339.2 754.3L1338.1 752.4L1337.0 750.3L1336.0 748.3L1335.1 746.2L1334.2 744.1L1333.3 742.0L1332.5 739.9L1331.8 737.7L1331.1 735.5L1330.5 733.3L1329.9 731.1L1329.4 728.9L1329.0 726.7L1328.6 724.4L1328.2 722.2L1328.0 719.9L1327.8 717.6L1327.6 715.4L1327.5 713.1L1327.5 710.8L1327.5 708.5L1327.6 706.2L1327.8 704.0L1328.0 701.7L1328.2 699.4Z" fill="#caeef0"/>
<path d="M1327.5 710.8L1327.5 708.5L1327.6 706.2L1327.8 704.0L1328.0 701.7L1328.2 699.4L1328.6 697.2L1329.0 694.9L1329.4 692.7L1329.9 690.5L1330.5 688.3L1331.1 686.1L1331.8 683.9L1332.5 681.7L1333.3 679.6L1334.2 677.5L1335.1 675.4L1336.0 673.3L1337.0 671.3L1338.1 669.2L1339.2 667.2L1340.4 665.3L1341.6 663.4L1342.9 661.5L1344.2 659.6L1345.6 657.8L1347.0 656.0L1348.5 654.2L1350.0 652.5L1351.5 650.8L1353.1 649.2L1354.8 647.6L1356.5 646.1L1358.2 644.6L1359.9 643.1L1361.7 641.7L1363.6 640.3L1365.4 639.0L1367.3 637.8L1369.3 636.5L1371.2 635.4L1373.2 634.3L1375.3 633.2L1377.3 632.2L1379.4 631.2L1381.5 630.3L1383.6 629.5L1385.8 628.7L1388.0 628.0L1390.1 627.3L1392.4 626.7L1394.6 626.1L1396.8 625.6L1399.1 625.2L1401.3 624.8L1403.6 624.4L1405.9 624.2L1408.1 624.0L1410.4 623.8L1412.7 623.7L1415.0 623.7L1417.3 623.7L1419.6 623.8L1421.9 624.0L1424.1 624.2L1427.1 625.2L1429.4 626.2L1431.6 627.3L1433.7 628.4L1435.9 629.6L1437.9 630.9L1440.0 632.2L1442.0 633.6L1444.0 635.0L1446.0 636.4L1447.9 638.0L1449.8 639.5L1451.6 641.1L1453.4 642.8L1455.2 644.5L1456.9 646.3L1458.5 648.1L1460.1 649.9L1461.7 651.8L1463.2 653.7L1464.7 655.7L1466.1 657.7L1467.4 659.7L1468.8 661.8L1470.0 663.9L1471.2 666.0L1472.3 668.2L1473.4 670.4L1474.4 672.6L1475.4 674.9L1476.3 677.2L1477.1 679.5L1477.9 681.8L1478.7 684.1L1479.3 686.5L1479.9 688.8L1480.5 691.2L1480.9 693.6L1481.4 696.1L1481.7 698.5L1482.0 700.9L1482.2 703.4L1482.4 705.8L1482.5 708.2L1482.5 710.7L1482.5 713.2L1482.4 715.6L1482.2 718.0L1482.0 720.5L1481.7 722.9L1481.4 725.3L1480.9 727.8L1480.5 730.2L1479.9 732.6L1479.3 734.9L1478.7 737.3L1477.9 739.6L1477.1 741.9L1476.3 744.2L1475.4 746.5L1474.4 748.8L1473.4 751.0L1472.3 753.2L1471.2 755.4L1470.0 757.5L1468.8 759.6L1467.4 761.7L1466.1 763.7L1464.7 765.7L1463.2 767.7L1461.7 769.6L1460.1 771.5L1458.5 773.3L1456.9 775.1L1455.2 776.9L1453.4 778.6L1451.6 780.3L1449.8 781.9L1447.9 783.4L1446.0 785.0L1444.0 786.4L1442.0 787.8L1440.0 789.2L1437.9 790.5L1435.9 791.8L1433.7 793.0L1431.6 794.1L1429.4 795.2L1427.1 796.2L1424.9 797.2L1424.1 797.4L1421.9 797.6L1419.6 797.8L1417.3 797.9L1415.0 797.9L1412.7 797.9L1410.4 797.8L1408.1 797.6L1405.9 797.4L1403.6 797.2L1401.3 796.8L1399.1 796.4L1396.8 796.0L1394.6 795.5L1392.4 794.9L1390.1 794.3L1388.0 793.6L1385.8 792.9L1383.6 792.1L1381.5 791.3L1379.4 790.4L1377.3 789.4L1375.3 788.4L1373.2 787.3L1371.2 786.2L1369.3 785.1L1367.3 783.8L1365.4 782.6L1363.6 781.3L1361.7 779.9L1359.9 778.5L1358.2 777.0L1356.5 775.5L1354.8 774.0L1353.1 772.4L1351.5 770.8L1350.0 769.1L1348.5 767.4L1347.0 765.6L1345.6 763.8L1344.2 762.0L1342.9 760.1L1341.6 758.2L1340.4 756.3L1339.2 754.3L1338.1 752.4L1337.0 750.3L1336.0 748.3L1335.1 746.2L1334.2 744.1L1333.3 742.0L1332.5 739.9L1331.8 737.7L1331.1 735.5L1330.5 733.3L1329.9 731.1L1329.4 728.9L1329.0 726.7L1328.6 724.4L1328.2 722.2L1328.0 719.9L1327.8 717.6L1327.6 715.4L1327.5 713.1Z" fill="#bcf7dc"/>
<path d="M1328.2 699.4L1328.6 697.2L1329.0 694.9L1329.4 692.7L1329.9 690.5L1330.5 688.3L1331.1 686.1L1331.8 683.9L1332.5 681.7L1333.3 679.6L1334.2 677.5L1335.1 675.4L1336.0 673.3L1337.0 671.3L1338.1 669.2L1339.2 667.2L1340.4 665.3L1341.6 663.4L1342.9 661.5L1344.2 659.6L1345.6 657.8L1347.0 656.0L1348.5 654.2L1350.0 652.5L1351.5 650.8L1353.1 649.2L1354.8 647.6L1356.5 646.1L1358.2 644.6L1359.9 643.1L1361.7 641.7L1363.6 640.3L1365.4 639.0L1367.3 637.8L1369.3 636.5L1371.2 635.4L1373.2 634.3L1375.3 633.2L1377.3 632.2L1379.4 631.2L1381.5 630.3L1383.6 629.5L1385.8 628.7L1388.0 628.0L1390.1 627.3L1392.4 626.7L1394.6 626.1L1396.8 625.6L1399.1 625.2L1401.3 624.8L1403.6 624.4L1405.9 624.2L1408.1 624.0L1410.4 623.8L1412.7 623.7L1415.0 623.7L1417.3 623.7L1419.6 623.8L1421.9 624.0L1424.1 624.2L1427.1 625.2L1429.4 626.2L1431.6 627.3L1433.7 628.4L1435.9 629.6L1437.9 630.9L1440.0 632.2L1442.0 633.6L1444.0 635.0L1446.0 636.4L1447.9 638.0L1449.8 639.5L1451.6 641.1L1453.4 642.8L1455.2 644.5L1456.9 646.3L1458.5 648.1L1460.1 649.9L1461.7 651.8L1463.2 653.7L1464.7 655.7L1466.1 657.7L1467.4 659.7L1468.8 661.8L1470.0 663.9L1471.2 666.0L1472.3 668.2L1473.4 670.4L1474.4 672.6L1475.4 674.9L1476.3 677.2L1477.1 679.5L1477.9 681.8L1478.7 684.1L1479.3 686.5L1479.9 688.8L1480.5 691.2L1480.9 693.6L1481.4 696.1L1481.7 698.5L1482.0 700.9L1482.2 703.4L1482.4 705.8L1482.5 708.2L1482.5 710.7L1482.5 713.2L1482.4 715.2L1481.4 717.5L1480.5 719.8L1479.4 722.1L1478.4 724.3L1477.2 726.5L1476.0 728.7L1474.7 730.8L1473.4 733.0L1472.1 735.0L1470.6 737.1L1469.2 739.1L1467.7 741.0L1466.1 743.0L1464.5 744.8L1462.8 746.7L1461.1 748.5L1459.3 750.2L1457.5 751.9L1455.6 753.5L1453.8 755.1L1451.8 756.7L1449.9 758.2L1447.8 759.6L1445.8 761.0L1443.7 762.3L1441.6 763.6L1439.5 764.8L1437.3 766.0L1435.1 767.1L1432.8 768.2L1430.6 769.1L1428.3 770.1L1426.0 770.9L1423.6 771.7L1421.3 772.5L1418.9 773.1L1416.5 773.8L1414.1 774.3L1411.7 774.8L1409.3 775.2L1406.9 775.6L1404.4 775.9L1402.0 776.1L1399.5 776.3L1397.1 776.4L1394.6 776.4L1392.1 776.4L1389.7 776.3L1387.2 776.1L1384.8 775.9L1382.3 775.6L1379.9 775.2L1377.5 774.8L1375.1 774.3L1372.7 773.8L1370.3 773.1L1367.9 772.5L1365.6 771.7L1363.2 770.9L1360.9 770.1L1358.6 769.1L1356.4 768.2L1354.1 767.1L1351.9 766.0L1349.7 764.8L1347.6 763.6L1345.5 762.3L1342.9 760.1L1341.6 758.2L1340.4 756.3L1339.2 754.3L1338.1 752.4L1337.0 750.3L1336.0 748.3L1335.1 746.2L1334.2 744.1L1333.3 742.0L1332.5 739.9L1331.8 737.7L1331.1 735.5L1330.5 733.3L1329.9 731.1L1329.4 728.9L1329.0 726.7L1328.6 724.4L1328.2 722.2L1328.0 719.9L1327.8 717.6L1327.6 715.4L1327.5 713.1L1327.5 710.8L1327.5 708.5L1327.6 706.2L1327.8 704.0L1328.0 701.7Z" fill="#d9f0d0"/>
<ellipse cx="1394.6" cy="681" rx="94" ry="95.4" fill="none" stroke="#000" stroke-width="1.7"/>
<ellipse cx="1389.2" cy="710.7" rx="93.3" ry="93.6" fill="none" stroke="#000" stroke-width="1.7"/>
<ellipse cx="1415" cy="710.8" rx="87.5" ry="87.1" fill="none" stroke="#000" stroke-width="1.7"/>
<text x="1307.90" y="571.80" font-size="27.4" textLength="168.5" lengthAdjust="spacing">AGLR1−rep1</text>
<text x="1399.40" y="610.27" font-size="16.4" text-anchor="middle" class="vc">114</text>
<text x="1316.60" y="692.57" font-size="16.4" text-anchor="middle" class="vc">101</text>
<text x="1404.50" y="707.87" font-size="16.4" text-anchor="middle" class="vc">443</text>
<text x="1333.80" y="774.37" font-size="16.4" text-anchor="middle" class="vc">55</text>
<text x="1417.80" y="792.07" font-size="16.4" text-anchor="middle" class="vc">75</text>
<text x="1517.90" y="661.17" font-size="16.4" text-anchor="middle" class="vc">55</text>
<text x="1528.80" y="740.27" font-size="16.4" text-anchor="middle" class="vc">28</text>
<text x="1471.70" y="614.40" font-size="19.6" textLength="114.5" lengthAdjust="spacing" class="vb">Magic−Blast</text>
<text x="1230.40" y="784.50" font-size="19.6" textLength="71.3" lengthAdjust="spacing" class="vb">HISAT2</text>
<text x="1490.10" y="790.60" font-size="19.6" textLength="53.5" lengthAdjust="spacing" class="vb">STAR</text>
<circle cx="1483.5" cy="669" r="0.9" fill="#333"/>
<line x1="1490.60" y1="664.60" x2="1505.00" y2="657.80" stroke="#000" stroke-width="1.9" stroke-dasharray="4.5 2.5"/>
<line x1="1490.70" y1="733.00" x2="1516.70" y2="733.00" stroke="#000" stroke-width="1.9" stroke-dasharray="4.5 2.5"/>
<ellipse cx="1788.4" cy="682.2" rx="95.7" ry="95.3" fill="#f5b9cc"/>
<ellipse cx="1789.1" cy="711.7" rx="92.3" ry="93.3" fill="#f4f49e"/>
<ellipse cx="1814.8" cy="711.8" rx="85.7" ry="85.7" fill="#80f7f5"/>
<path d="M1697.9 697.1L1698.3 694.7L1698.8 692.3L1699.4 689.9L1699.9 687.6L1700.6 685.2L1701.3 682.9L1702.1 680.6L1702.9 678.3L1703.8 676.0L1704.8 673.8L1705.8 671.5L1706.9 669.3L1708.0 667.2L1709.2 665.1L1710.4 663.0L1711.7 660.9L1713.0 658.9L1714.4 656.9L1715.9 654.9L1717.4 653.0L1718.9 651.1L1720.5 649.3L1722.1 647.5L1723.8 645.7L1725.6 644.0L1727.3 642.4L1729.2 640.8L1731.0 639.2L1732.9 637.7L1734.8 636.2L1736.8 634.8L1738.8 633.5L1740.9 632.1L1742.9 630.9L1745.1 629.7L1747.2 628.6L1749.4 627.5L1751.6 626.5L1753.8 625.5L1756.0 624.6L1758.3 623.8L1760.6 623.0L1762.9 622.2L1765.2 621.6L1767.6 621.0L1769.9 620.4L1772.3 620.0L1774.7 619.5L1777.1 619.2L1779.5 618.9L1781.9 618.7L1784.3 618.5L1786.7 618.4L1789.1 618.4L1791.5 618.4L1793.9 618.5L1796.3 618.7L1798.7 618.9L1801.1 619.2L1803.5 619.5L1805.9 620.0L1808.3 620.4L1810.6 621.0L1813.0 621.6L1815.3 622.2L1817.6 623.0L1819.9 623.8L1822.2 624.6L1824.4 625.5L1826.6 626.5L1828.8 627.5L1831.0 628.6L1833.1 629.7L1835.2 630.9L1837.3 632.1L1839.4 633.5L1841.4 634.8L1843.4 636.2L1845.3 637.7L1847.2 639.2L1849.0 640.8L1850.9 642.4L1852.6 644.0L1854.4 645.7L1856.1 647.5L1857.7 649.3L1859.3 651.1L1860.8 653.0L1862.3 654.9L1863.8 656.9L1865.2 658.9L1866.5 660.9L1867.8 663.0L1869.0 665.1L1870.2 667.2L1871.3 669.3L1872.4 671.5L1873.4 673.8L1874.4 676.0L1875.3 678.3L1876.1 680.6L1876.9 682.9L1877.6 685.2L1878.3 687.6L1878.8 689.9L1879.4 692.3L1879.9 694.7L1880.3 697.1L1880.6 699.5L1880.9 701.9L1881.1 704.4L1880.8 706.9L1880.2 709.3L1879.4 711.6L1878.6 714.0L1877.7 716.4L1876.8 718.7L1875.8 721.0L1874.8 723.2L1873.7 725.5L1872.5 727.7L1871.3 729.9L1870.0 732.0L1868.7 734.1L1867.3 736.2L1865.8 738.2L1864.3 740.2L1862.8 742.2L1861.2 744.1L1859.5 746.0L1857.8 747.8L1856.1 749.6L1854.3 751.3L1852.4 753.0L1850.6 754.7L1848.6 756.3L1846.7 757.8L1844.7 759.3L1842.6 760.7L1840.5 762.1L1838.4 763.5L1836.2 764.7L1834.1 766.0L1831.8 767.1L1829.6 768.2L1827.3 769.3L1825.0 770.2L1822.7 771.2L1820.3 772.0L1818.0 772.8L1815.6 773.6L1813.2 774.3L1810.7 774.9L1808.3 775.4L1805.8 775.9L1803.4 776.3L1800.9 776.7L1798.4 777.0L1795.9 777.2L1793.4 777.4L1790.9 777.5L1788.4 777.5L1785.9 777.5L1783.4 777.4L1780.9 777.2L1778.4 777.0L1775.9 776.7L1773.4 776.3L1771.0 775.9L1768.5 775.4L1766.1 774.9L1763.6 774.3L1761.2 773.6L1758.8 772.8L1756.5 772.0L1754.1 771.2L1751.8 770.2L1749.5 769.3L1747.2 768.2L1745.0 767.1L1742.7 766.0L1740.6 764.7L1738.4 763.5L1736.3 762.1L1734.2 760.7L1732.1 759.3L1730.1 757.8L1728.2 756.3L1726.2 754.7L1724.4 753.0L1722.5 751.3L1720.7 749.6L1719.0 747.8L1717.3 746.0L1715.6 744.1L1714.0 742.2L1712.5 740.2L1711.0 738.2L1709.5 736.2L1708.1 734.1L1706.8 732.0L1705.5 729.9L1704.3 727.7L1703.1 725.5L1702.0 723.2L1701.0 721.0L1700.0 718.7L1699.1 716.4L1698.2 714.0L1697.4 711.6L1696.8 709.3L1696.9 706.8L1697.1 704.4L1697.3 701.9L1697.6 699.5Z" fill="#f7d5b6"/>
<path d="M1730.2 698.4L1730.5 696.2L1731.0 694.0L1731.5 691.8L1732.0 689.6L1732.6 687.5L1733.3 685.3L1734.0 683.2L1734.8 681.1L1735.6 679.0L1736.5 676.9L1737.4 674.9L1738.4 672.9L1739.5 670.9L1740.6 668.9L1741.7 667.0L1742.9 665.1L1744.2 663.3L1745.5 661.4L1746.8 659.6L1748.2 657.9L1749.6 656.1L1751.1 654.5L1752.6 652.8L1754.2 651.2L1755.8 649.6L1757.5 648.1L1759.1 646.6L1760.9 645.2L1762.6 643.8L1764.4 642.5L1766.3 641.2L1768.1 639.9L1770.0 638.7L1771.9 637.6L1773.9 636.5L1775.9 635.4L1777.9 634.4L1779.9 633.5L1782.0 632.6L1784.1 631.8L1786.2 631.0L1788.3 630.3L1790.5 629.6L1792.6 629.0L1794.8 628.5L1797.0 628.0L1799.2 627.5L1801.4 627.2L1803.6 626.8L1805.8 626.6L1808.1 626.4L1810.3 626.2L1812.6 626.1L1814.8 626.1L1817.0 626.1L1819.3 626.2L1821.5 626.4L1823.8 626.6L1826.0 626.8L1828.2 627.2L1830.4 627.5L1832.6 628.0L1834.8 628.5L1837.0 629.0L1839.1 629.6L1841.3 630.3L1843.4 631.0L1845.5 631.8L1847.6 632.6L1849.7 633.5L1851.7 634.4L1853.7 635.4L1855.7 636.5L1857.6 637.6L1859.6 638.7L1861.5 639.9L1863.3 641.2L1865.2 642.5L1867.0 643.8L1868.7 645.2L1870.5 646.6L1872.1 648.1L1873.8 649.6L1875.4 651.2L1877.0 652.8L1878.5 654.5L1880.0 656.1L1880.8 657.5L1881.5 660.0L1882.0 662.4L1882.5 664.8L1882.9 667.3L1883.3 669.8L1883.6 672.2L1883.8 674.7L1884.0 677.2L1884.1 679.7L1884.1 682.2L1884.1 684.7L1884.0 687.2L1883.8 689.7L1883.6 692.2L1883.3 694.6L1882.9 697.1L1882.5 699.6L1882.0 702.0L1881.5 704.4L1880.8 706.9L1880.2 709.3L1879.4 711.6L1878.6 714.0L1877.7 716.4L1876.8 718.7L1875.8 721.0L1874.8 723.2L1873.7 725.5L1872.5 727.7L1871.3 729.9L1870.0 732.0L1868.7 734.1L1867.3 736.2L1865.8 738.2L1864.3 740.2L1862.8 742.2L1861.2 744.1L1859.5 746.0L1857.8 747.8L1856.1 749.6L1854.3 751.3L1852.4 753.0L1850.6 754.7L1848.6 756.3L1846.7 757.8L1844.7 759.3L1842.6 760.7L1840.5 762.1L1838.4 763.5L1836.2 764.7L1834.1 766.0L1831.8 767.1L1829.6 768.2L1827.3 769.3L1825.0 770.2L1822.7 771.2L1820.3 772.0L1818.0 772.8L1815.6 773.6L1813.2 774.3L1810.7 774.9L1808.3 775.4L1805.8 775.9L1803.4 776.3L1800.9 776.7L1798.4 777.0L1795.9 777.2L1793.4 777.4L1790.9 777.5L1788.4 777.5L1785.9 777.5L1783.4 777.4L1780.9 777.2L1778.4 777.0L1775.9 776.7L1773.4 776.3L1771.0 775.9L1768.5 775.4L1766.1 774.9L1763.6 774.3L1761.2 773.6L1758.8 772.8L1756.5 772.0L1754.1 771.2L1751.1 769.1L1749.6 767.5L1748.2 765.7L1746.8 764.0L1745.5 762.2L1744.2 760.3L1742.9 758.5L1741.7 756.6L1740.6 754.6L1739.5 752.7L1738.4 750.7L1737.4 748.7L1736.5 746.7L1735.6 744.6L1734.8 742.5L1734.0 740.4L1733.3 738.3L1732.6 736.1L1732.0 734.0L1731.5 731.8L1731.0 729.6L1730.5 727.4L1730.2 725.2L1729.8 723.0L1729.6 720.8L1729.4 718.5L1729.2 716.3L1729.1 714.0L1729.1 711.8L1729.1 709.6L1729.2 707.3L1729.4 705.1L1729.6 702.8L1729.8 700.6Z" fill="#caeef0"/>
<path d="M1729.1 709.6L1729.2 707.3L1729.4 705.1L1729.6 702.8L1729.8 700.6L1730.2 698.4L1730.5 696.2L1731.0 694.0L1731.5 691.8L1732.0 689.6L1732.6 687.5L1733.3 685.3L1734.0 683.2L1734.8 681.1L1735.6 679.0L1736.5 676.9L1737.4 674.9L1738.4 672.9L1739.5 670.9L1740.6 668.9L1741.7 667.0L1742.9 665.1L1744.2 663.3L1745.5 661.4L1746.8 659.6L1748.2 657.9L1749.6 656.1L1751.1 654.5L1752.6 652.8L1754.2 651.2L1755.8 649.6L1757.5 648.1L1759.1 646.6L1760.9 645.2L1762.6 643.8L1764.4 642.5L1766.3 641.2L1768.1 639.9L1770.0 638.7L1771.9 637.6L1773.9 636.5L1775.9 635.4L1777.9 634.4L1779.9 633.5L1782.0 632.6L1784.1 631.8L1786.2 631.0L1788.3 630.3L1790.5 629.6L1792.6 629.0L1794.8 628.5L1797.0 628.0L1799.2 627.5L1801.4 627.2L1803.6 626.8L1805.8 626.6L1808.1 626.4L1810.3 626.2L1812.6 626.1L1814.8 626.1L1817.0 626.1L1819.3 626.2L1821.5 626.4L1823.8 626.6L1826.0 626.8L1828.8 627.5L1831.0 628.6L1833.1 629.7L1835.2 630.9L1837.3 632.1L1839.4 633.5L1841.4 634.8L1843.4 636.2L1845.3 637.7L1847.2 639.2L1849.0 640.8L1850.9 642.4L1852.6 644.0L1854.4 645.7L1856.1 647.5L1857.7 649.3L1859.3 651.1L1860.8 653.0L1862.3 654.9L1863.8 656.9L1865.2 658.9L1866.5 660.9L1867.8 663.0L1869.0 665.1L1870.2 667.2L1871.3 669.3L1872.4 671.5L1873.4 673.8L1874.4 676.0L1875.3 678.3L1876.1 680.6L1876.9 682.9L1877.6 685.2L1878.3 687.6L1878.8 689.9L1879.4 692.3L1879.9 694.7L1880.3 697.1L1880.6 699.5L1880.9 701.9L1881.1 704.4L1881.3 706.8L1881.4 709.3L1881.4 711.7L1881.4 714.1L1881.3 716.6L1881.1 719.0L1880.9 721.5L1880.6 723.9L1880.3 726.3L1879.9 728.7L1879.4 731.1L1878.8 733.5L1878.3 735.8L1877.6 738.2L1876.9 740.5L1876.1 742.8L1875.3 745.1L1874.4 747.4L1873.4 749.6L1872.4 751.9L1871.3 754.1L1870.2 756.2L1869.0 758.4L1867.8 760.4L1866.5 762.5L1865.2 764.5L1863.8 766.5L1862.3 768.5L1860.8 770.4L1859.3 772.3L1857.7 774.1L1856.1 775.9L1854.4 777.7L1852.6 779.4L1850.9 781.0L1849.0 782.6L1847.2 784.2L1845.3 785.7L1843.4 787.2L1841.4 788.6L1839.4 789.9L1837.3 791.3L1835.2 792.5L1833.1 793.7L1831.0 794.8L1828.8 795.9L1826.0 796.8L1823.8 797.0L1821.5 797.2L1819.3 797.4L1817.0 797.5L1814.8 797.5L1812.6 797.5L1810.3 797.4L1808.1 797.2L1805.8 797.0L1803.6 796.8L1801.4 796.4L1799.2 796.1L1797.0 795.6L1794.8 795.1L1792.6 794.6L1790.5 794.0L1788.3 793.3L1786.2 792.6L1784.1 791.8L1782.0 791.0L1779.9 790.1L1777.9 789.2L1775.9 788.2L1773.9 787.1L1772.0 786.0L1770.0 784.9L1768.1 783.7L1766.3 782.4L1764.4 781.1L1762.6 779.8L1760.9 778.4L1759.1 777.0L1757.5 775.5L1755.8 774.0L1754.2 772.4L1752.6 770.8L1751.1 769.1L1749.6 767.5L1748.2 765.7L1746.8 764.0L1745.5 762.2L1744.2 760.3L1742.9 758.5L1741.7 756.6L1740.6 754.6L1739.5 752.7L1738.4 750.7L1737.4 748.7L1736.5 746.7L1735.6 744.6L1734.8 742.5L1734.0 740.4L1733.3 738.3L1732.6 736.1L1732.0 734.0L1731.5 731.8L1731.0 729.6L1730.5 727.4L1730.2 725.2L1729.8 723.0L1729.6 720.8L1729.4 718.5L1729.2 716.3L1729.1 714.0L1729.1 711.8Z" fill="#bcf7dc"/>
<path d="M1729.8 700.6L1730.2 698.4L1730.5 696.2L1731.0 694.0L1731.5 691.8L1732.0 689.6L1732.6 687.5L1733.3 685.3L1734.0 683.2L1734.8 681.1L1735.6 679.0L1736.5 676.9L1737.4 674.9L1738.4 672.9L1739.5 670.9L1740.6 668.9L1741.7 667.0L1742.9 665.1L1744.2 663.3L1745.5 661.4L1746.8 659.6L1748.2 657.9L1749.6 656.1L1751.1 654.5L1752.6 652.8L1754.2 651.2L1755.8 649.6L1757.5 648.1L1759.1 646.6L1760.9 645.2L1762.6 643.8L1764.4 642.5L1766.3 641.2L1768.1 639.9L1770.0 638.7L1771.9 637.6L1773.9 636.5L1775.9 635.4L1777.9 634.4L1779.9 633.5L1782.0 632.6L1784.1 631.8L1786.2 631.0L1788.3 630.3L1790.5 629.6L1792.6 629.0L1794.8 628.5L1797.0 628.0L1799.2 627.5L1801.4 627.2L1803.6 626.8L1805.8 626.6L1808.1 626.4L1810.3 626.2L1812.6 626.1L1814.8 626.1L1817.0 626.1L1819.3 626.2L1821.5 626.4L1823.8 626.6L1826.0 626.8L1828.8 627.5L1831.0 628.6L1833.1 629.7L1835.2 630.9L1837.3 632.1L1839.4 633.5L1841.4 634.8L1843.4 636.2L1845.3 637.7L1847.2 639.2L1849.0 640.8L1850.9 642.4L1852.6 644.0L1854.4 645.7L1856.1 647.5L1857.7 649.3L1859.3 651.1L1860.8 653.0L1862.3 654.9L1863.8 656.9L1865.2 658.9L1866.5 660.9L1867.8 663.0L1869.0 665.1L1870.2 667.2L1871.3 669.3L1872.4 671.5L1873.4 673.8L1874.4 676.0L1875.3 678.3L1876.1 680.6L1876.9 682.9L1877.6 685.2L1878.3 687.6L1878.8 689.9L1879.4 692.3L1879.9 694.7L1880.3 697.1L1880.6 699.5L1880.9 701.9L1881.1 704.4L1880.8 706.9L1880.2 709.3L1879.4 711.6L1878.6 714.0L1877.7 716.4L1876.8 718.7L1875.8 721.0L1874.8 723.2L1873.7 725.5L1872.5 727.7L1871.3 729.9L1870.0 732.0L1868.7 734.1L1867.3 736.2L1865.8 738.2L1864.3 740.2L1862.8 742.2L1861.2 744.1L1859.5 746.0L1857.8 747.8L1856.1 749.6L1854.3 751.3L1852.4 753.0L1850.6 754.7L1848.6 756.3L1846.7 757.8L1844.7 759.3L1842.6 760.7L1840.5 762.1L1838.4 763.5L1836.2 764.7L1834.1 766.0L1831.8 767.1L1829.6 768.2L1827.3 769.3L1825.0 770.2L1822.7 771.2L1820.3 772.0L1818.0 772.8L1815.6 773.6L1813.2 774.3L1810.7 774.9L1808.3 775.4L1805.8 775.9L1803.4 776.3L1800.9 776.7L1798.4 777.0L1795.9 777.2L1793.4 777.4L1790.9 777.5L1788.4 777.5L1785.9 777.5L1783.4 777.4L1780.9 777.2L1778.4 777.0L1775.9 776.7L1773.4 776.3L1771.0 775.9L1768.5 775.4L1766.1 774.9L1763.6 774.3L1761.2 773.6L1758.8 772.8L1756.5 772.0L1754.1 771.2L1751.1 769.1L1749.6 767.5L1748.2 765.7L1746.8 764.0L1745.5 762.2L1744.2 760.3L1742.9 758.5L1741.7 756.6L1740.6 754.6L1739.5 752.7L1738.4 750.7L1737.4 748.7L1736.5 746.7L1735.6 744.6L1734.8 742.5L1734.0 740.4L1733.3 738.3L1732.6 736.1L1732.0 734.0L1731.5 731.8L1731.0 729.6L1730.5 727.4L1730.2 725.2L1729.8 723.0L1729.6 720.8L1729.4 718.5L1729.2 716.3L1729.1 714.0L1729.1 711.8L1729.1 709.6L1729.2 707.3L1729.4 705.1L1729.6 702.8Z" fill="#d9f0d0"/>
<ellipse cx="1788.4" cy="682.2" rx="95.7" ry="95.3" fill="none" stroke="#000" stroke-width="1.7"/>
<ellipse cx="1789.1" cy="711.7" rx="92.3" ry="93.3" fill="none" stroke="#000" stroke-width="1.7"/>
<ellipse cx="1814.8" cy="711.8" rx="85.7" ry="85.7" fill="none" stroke="#000" stroke-width="1.7"/>
<text x="1704.90" y="571.80" font-size="27.4" textLength="168.5" lengthAdjust="spacing">AGLR2−rep1</text>
<text x="1789.00" y="609.87" font-size="16.4" text-anchor="middle" class="vc">170</text>
<text x="1713.10" y="713.97" font-size="16.4" text-anchor="middle" class="vc">151</text>
<text x="1801.00" y="707.67" font-size="16.4" text-anchor="middle" class="vc">528</text>
<text x="1746.90" y="786.57" font-size="16.4" text-anchor="middle" class="vc">53</text>
<text x="1828.70" y="786.57" font-size="16.4" text-anchor="middle" class="vc">92</text>
<text x="1905.80" y="651.67" font-size="16.4" text-anchor="middle" class="vc">51</text>
<text x="1929.60" y="726.17" font-size="16.4" text-anchor="middle" class="vc">48</text>
<text x="1873.10" y="624.60" font-size="19.6" textLength="114.5" lengthAdjust="spacing" class="vb">Magic−Blast</text>
<text x="1633.70" y="789.30" font-size="19.6" textLength="70.5" lengthAdjust="spacing" class="vb">HISAT2</text>
<text x="1899.30" y="778.80" font-size="19.6" textLength="53.5" lengthAdjust="spacing" class="vb">STAR</text>
<circle cx="1877.8" cy="654.6" r="0.9" fill="#333"/>
<line x1="1880.50" y1="653.50" x2="1892.10" y2="648.50" stroke="#000" stroke-width="1.9" stroke-dasharray="4.5 2.5"/>
<line x1="1890.70" y1="719.10" x2="1914.60" y2="719.10" stroke="#000" stroke-width="1.9" stroke-dasharray="4.5 2.5"/>
<ellipse cx="1389.5" cy="972.4" rx="97" ry="97.3" fill="#f5b9cc"/>
<ellipse cx="1386.2" cy="997.4" rx="95.6" ry="96.6" fill="#f4f49e"/>
<ellipse cx="1414.5" cy="998.3" rx="91.5" ry="91.5" fill="#80f7f5"/>
<path d="M1293.3 985.1L1293.0 982.6L1292.8 980.0L1292.7 977.3L1293.2 974.8L1293.9 972.4L1294.5 970.0L1295.3 967.5L1296.1 965.2L1296.9 962.8L1297.9 960.4L1298.9 958.1L1299.9 955.8L1301.0 953.5L1302.2 951.3L1303.4 949.1L1304.7 946.9L1306.0 944.8L1307.4 942.7L1308.9 940.6L1310.4 938.6L1311.9 936.6L1313.5 934.7L1315.2 932.8L1316.9 930.9L1318.6 929.1L1320.4 927.3L1322.2 925.6L1324.1 923.9L1326.0 922.3L1328.0 920.8L1330.0 919.2L1332.1 917.8L1334.1 916.4L1336.2 915.0L1338.4 913.7L1340.6 912.5L1342.8 911.3L1345.0 910.2L1347.3 909.2L1349.6 908.2L1351.9 907.2L1354.3 906.3L1356.7 905.5L1359.0 904.8L1361.5 904.1L1363.9 903.5L1366.3 902.9L1368.8 902.4L1371.2 902.0L1373.7 901.6L1376.2 901.3L1378.7 901.1L1381.2 900.9L1383.7 900.8L1386.2 900.8L1388.7 900.8L1391.2 900.9L1393.7 901.1L1396.2 901.3L1398.7 901.6L1401.2 902.0L1403.6 902.4L1406.1 902.9L1408.5 903.5L1410.9 904.1L1413.4 904.8L1415.7 905.5L1418.1 906.3L1420.5 907.2L1422.8 908.2L1425.1 909.2L1427.4 910.2L1429.6 911.3L1431.8 912.5L1434.0 913.7L1436.2 915.0L1438.3 916.4L1440.3 917.8L1442.4 919.2L1444.4 920.8L1446.4 922.3L1448.3 923.9L1450.2 925.6L1452.0 927.3L1453.8 929.1L1455.5 930.9L1457.2 932.8L1458.9 934.7L1460.5 936.6L1462.0 938.6L1463.5 940.6L1465.0 942.7L1466.4 944.8L1467.7 946.9L1469.0 949.1L1470.2 951.3L1471.4 953.5L1472.5 955.8L1473.5 958.1L1474.5 960.4L1475.5 962.8L1476.3 965.2L1477.1 967.5L1477.9 970.0L1478.5 972.4L1479.2 974.8L1479.7 977.3L1480.2 979.8L1480.6 982.3L1481.0 984.8L1481.3 987.3L1481.5 989.8L1481.7 992.3L1481.8 994.9L1481.8 997.4L1481.8 999.9L1481.7 1002.5L1480.9 1004.9L1480.1 1007.3L1479.1 1009.6L1478.1 1012.0L1477.1 1014.3L1475.9 1016.6L1474.7 1018.8L1473.5 1021.0L1472.2 1023.2L1470.9 1025.4L1469.4 1027.5L1468.0 1029.6L1466.5 1031.6L1464.9 1033.6L1463.3 1035.6L1461.6 1037.5L1459.9 1039.4L1458.1 1041.2L1456.3 1043.0L1454.4 1044.7L1452.5 1046.4L1450.5 1048.0L1448.5 1049.6L1446.5 1051.1L1444.4 1052.6L1442.3 1054.0L1440.2 1055.4L1438.0 1056.7L1435.8 1057.9L1433.5 1059.1L1431.3 1060.2L1429.0 1061.3L1426.6 1062.3L1424.3 1063.2L1421.9 1064.1L1419.5 1064.9L1417.0 1065.7L1414.6 1066.4L1412.1 1067.0L1409.7 1067.6L1407.2 1068.1L1404.7 1068.5L1402.2 1068.9L1399.6 1069.2L1397.1 1069.4L1394.6 1069.6L1392.0 1069.7L1389.5 1069.7L1387.0 1069.7L1384.4 1069.6L1381.9 1069.4L1379.4 1069.2L1376.8 1068.9L1374.3 1068.5L1371.8 1068.1L1369.3 1067.6L1366.9 1067.0L1364.4 1066.4L1362.0 1065.7L1359.5 1064.9L1357.1 1064.1L1354.7 1063.2L1352.4 1062.3L1350.0 1061.3L1347.7 1060.2L1345.5 1059.1L1343.2 1057.9L1341.0 1056.7L1338.8 1055.4L1336.7 1054.0L1334.6 1052.6L1332.5 1051.1L1330.5 1049.6L1328.5 1048.0L1326.5 1046.4L1324.6 1044.7L1322.7 1043.0L1320.9 1041.2L1319.1 1039.4L1317.4 1037.5L1315.7 1035.6L1314.1 1033.6L1312.5 1031.6L1311.0 1029.6L1309.6 1027.5L1308.1 1025.4L1306.8 1023.2L1305.5 1021.0L1304.3 1018.8L1303.1 1016.6L1301.9 1014.3L1300.9 1012.0L1299.9 1009.6L1298.9 1007.3L1298.1 1004.9L1297.2 1002.5L1296.5 1000.0L1295.8 997.6L1295.2 995.1L1294.6 992.6L1294.1 990.1L1293.7 987.6Z" fill="#f7d5b6"/>
<path d="M1323.8 986.4L1324.1 984.0L1324.5 981.6L1325.0 979.3L1325.5 976.9L1326.1 974.6L1326.8 972.3L1327.5 970.0L1328.2 967.8L1329.1 965.5L1330.0 963.3L1330.9 961.1L1331.9 958.9L1333.0 956.8L1334.1 954.6L1335.3 952.5L1336.5 950.5L1337.8 948.5L1339.1 946.5L1340.5 944.5L1341.9 942.6L1343.4 940.7L1344.9 938.9L1346.5 937.1L1348.1 935.3L1349.8 933.6L1351.5 931.9L1353.3 930.3L1355.1 928.7L1356.9 927.2L1358.8 925.7L1360.7 924.3L1362.7 922.9L1364.7 921.6L1366.7 920.3L1368.8 919.1L1370.8 917.9L1373.0 916.8L1375.1 915.7L1377.3 914.7L1379.5 913.8L1381.7 912.9L1384.0 912.0L1386.2 911.3L1388.5 910.6L1390.8 909.9L1393.1 909.3L1395.5 908.8L1397.8 908.3L1400.2 907.9L1402.6 907.6L1404.9 907.3L1407.3 907.1L1409.7 906.9L1412.1 906.8L1414.5 906.8L1416.9 906.8L1419.3 906.9L1421.7 907.1L1424.1 907.3L1426.4 907.6L1428.8 907.9L1431.2 908.3L1433.5 908.8L1435.9 909.3L1438.2 909.9L1440.5 910.6L1442.8 911.3L1445.0 912.0L1447.3 912.9L1449.5 913.8L1451.7 914.7L1453.9 915.7L1456.0 916.8L1458.2 917.9L1460.2 919.1L1462.3 920.3L1464.3 921.6L1466.3 922.9L1468.3 924.3L1470.2 925.7L1472.1 927.2L1473.9 928.7L1475.7 930.3L1477.5 931.9L1478.1 932.8L1479.1 935.2L1480.1 937.5L1480.9 939.9L1481.8 942.3L1482.5 944.8L1483.2 947.2L1483.8 949.7L1484.4 952.2L1484.9 954.7L1485.3 957.2L1485.7 959.7L1486.0 962.2L1486.2 964.8L1486.4 967.3L1486.5 969.9L1486.5 972.4L1486.5 974.9L1486.4 977.5L1486.2 980.0L1486.0 982.6L1485.7 985.1L1485.3 987.6L1484.9 990.1L1484.4 992.6L1483.8 995.1L1483.2 997.6L1482.5 1000.0L1481.8 1002.5L1480.9 1004.9L1480.1 1007.3L1479.1 1009.6L1478.1 1012.0L1477.1 1014.3L1475.9 1016.6L1474.7 1018.8L1473.5 1021.0L1472.2 1023.2L1470.9 1025.4L1469.4 1027.5L1468.0 1029.6L1466.5 1031.6L1464.9 1033.6L1463.3 1035.6L1461.6 1037.5L1459.9 1039.4L1458.1 1041.2L1456.3 1043.0L1454.4 1044.7L1452.5 1046.4L1450.5 1048.0L1448.5 1049.6L1446.5 1051.1L1444.4 1052.6L1442.3 1054.0L1440.2 1055.4L1438.0 1056.7L1435.8 1057.9L1433.5 1059.1L1431.3 1060.2L1429.0 1061.3L1426.6 1062.3L1424.3 1063.2L1421.9 1064.1L1419.5 1064.9L1417.0 1065.7L1414.6 1066.4L1412.1 1067.0L1409.7 1067.6L1407.2 1068.1L1404.7 1068.5L1402.2 1068.9L1399.6 1069.2L1397.1 1069.4L1394.6 1069.6L1392.0 1069.7L1389.5 1069.7L1387.0 1069.7L1384.4 1069.6L1381.9 1069.4L1379.4 1069.2L1376.8 1068.9L1374.3 1068.5L1371.8 1068.1L1369.3 1067.6L1366.9 1067.0L1364.4 1066.4L1362.0 1065.7L1359.5 1064.9L1357.1 1064.1L1354.7 1063.2L1352.4 1062.3L1350.0 1061.3L1347.7 1060.2L1346.5 1059.5L1344.9 1057.7L1343.4 1055.9L1341.9 1054.0L1340.5 1052.1L1339.1 1050.1L1337.8 1048.1L1336.5 1046.1L1335.3 1044.0L1334.1 1042.0L1333.0 1039.8L1331.9 1037.7L1330.9 1035.5L1330.0 1033.3L1329.1 1031.1L1328.2 1028.8L1327.5 1026.6L1326.8 1024.3L1326.1 1022.0L1325.5 1019.7L1325.0 1017.3L1324.5 1015.0L1324.1 1012.6L1323.8 1010.2L1323.5 1007.9L1323.3 1005.5L1323.1 1003.1L1323.0 1000.7L1323.0 998.3L1323.0 995.9L1323.1 993.5L1323.3 991.1L1323.5 988.7Z" fill="#caeef0"/>
<path d="M1323.0 995.9L1323.1 993.5L1323.3 991.1L1323.5 988.7L1323.8 986.4L1324.1 984.0L1324.5 981.6L1325.0 979.3L1325.5 976.9L1326.1 974.6L1326.8 972.3L1327.5 970.0L1328.2 967.8L1329.1 965.5L1330.0 963.3L1330.9 961.1L1331.9 958.9L1333.0 956.8L1334.1 954.6L1335.3 952.5L1336.5 950.5L1337.8 948.5L1339.1 946.5L1340.5 944.5L1341.9 942.6L1343.4 940.7L1344.9 938.9L1346.5 937.1L1348.1 935.3L1349.8 933.6L1351.5 931.9L1353.3 930.3L1355.1 928.7L1356.9 927.2L1358.8 925.7L1360.7 924.3L1362.7 922.9L1364.7 921.6L1366.7 920.3L1368.8 919.1L1370.8 917.9L1373.0 916.8L1375.1 915.7L1377.3 914.7L1379.5 913.8L1381.7 912.9L1384.0 912.0L1386.2 911.3L1388.5 910.6L1390.8 909.9L1393.1 909.3L1395.5 908.8L1397.8 908.3L1400.2 907.9L1402.6 907.6L1404.9 907.3L1407.3 907.1L1409.7 906.9L1412.1 906.8L1414.5 906.8L1416.9 906.8L1419.3 906.9L1420.5 907.2L1422.8 908.2L1425.1 909.2L1427.4 910.2L1429.6 911.3L1431.8 912.5L1434.0 913.7L1436.2 915.0L1438.3 916.4L1440.3 917.8L1442.4 919.2L1444.4 920.8L1446.4 922.3L1448.3 923.9L1450.2 925.6L1452.0 927.3L1453.8 929.1L1455.5 930.9L1457.2 932.8L1458.9 934.7L1460.5 936.6L1462.0 938.6L1463.5 940.6L1465.0 942.7L1466.4 944.8L1467.7 946.9L1469.0 949.1L1470.2 951.3L1471.4 953.5L1472.5 955.8L1473.5 958.1L1474.5 960.4L1475.5 962.8L1476.3 965.2L1477.1 967.5L1477.9 970.0L1478.5 972.4L1479.2 974.8L1479.7 977.3L1480.2 979.8L1480.6 982.3L1481.0 984.8L1481.3 987.3L1481.5 989.8L1481.7 992.3L1481.8 994.9L1481.8 997.4L1481.8 999.9L1481.7 1002.5L1481.5 1005.0L1481.3 1007.5L1481.0 1010.0L1480.6 1012.5L1480.2 1015.0L1479.7 1017.5L1479.2 1020.0L1478.5 1022.4L1477.9 1024.8L1477.1 1027.3L1476.3 1029.6L1475.5 1032.0L1474.5 1034.4L1473.5 1036.7L1472.5 1039.0L1471.4 1041.3L1470.2 1043.5L1469.0 1045.7L1467.7 1047.9L1466.4 1050.0L1465.0 1052.1L1463.5 1054.2L1462.0 1056.2L1460.5 1058.2L1458.9 1060.1L1457.2 1062.0L1455.5 1063.9L1453.8 1065.7L1452.0 1067.5L1450.2 1069.2L1448.3 1070.9L1446.4 1072.5L1444.4 1074.0L1442.4 1075.6L1440.3 1077.0L1438.3 1078.4L1436.2 1079.8L1434.0 1081.1L1431.8 1082.3L1429.6 1083.5L1427.4 1084.6L1425.1 1085.6L1422.8 1086.6L1420.5 1087.6L1418.1 1088.5L1415.7 1089.3L1412.1 1089.8L1409.7 1089.7L1407.3 1089.5L1404.9 1089.3L1402.6 1089.0L1400.2 1088.7L1397.8 1088.3L1395.5 1087.8L1393.1 1087.3L1390.8 1086.7L1388.5 1086.0L1386.2 1085.3L1384.0 1084.6L1381.7 1083.7L1379.5 1082.8L1377.3 1081.9L1375.1 1080.9L1373.0 1079.8L1370.8 1078.7L1368.8 1077.5L1366.7 1076.3L1364.7 1075.0L1362.7 1073.7L1360.7 1072.3L1358.8 1070.9L1356.9 1069.4L1355.1 1067.9L1353.3 1066.3L1351.5 1064.7L1349.8 1063.0L1348.1 1061.3L1346.5 1059.5L1344.9 1057.7L1343.4 1055.9L1341.9 1054.0L1340.5 1052.1L1339.1 1050.1L1337.8 1048.1L1336.5 1046.1L1335.3 1044.0L1334.1 1042.0L1333.0 1039.8L1331.9 1037.7L1330.9 1035.5L1330.0 1033.3L1329.1 1031.1L1328.2 1028.8L1327.5 1026.6L1326.8 1024.3L1326.1 1022.0L1325.5 1019.7L1325.0 1017.3L1324.5 1015.0L1324.1 1012.6L1323.8 1010.2L1323.5 1007.9L1323.3 1005.5L1323.1 1003.1L1323.0 1000.7L1323.0 998.3Z" fill="#bcf7dc"/>
<path d="M1323.5 988.7L1323.8 986.4L1324.1 984.0L1324.5 981.6L1325.0 979.3L1325.5 976.9L1326.1 974.6L1326.8 972.3L1327.5 970.0L1328.2 967.8L1329.1 965.5L1330.0 963.3L1330.9 961.1L1331.9 958.9L1333.0 956.8L1334.1 954.6L1335.3 952.5L1336.5 950.5L1337.8 948.5L1339.1 946.5L1340.5 944.5L1341.9 942.6L1343.4 940.7L1344.9 938.9L1346.5 937.1L1348.1 935.3L1349.8 933.6L1351.5 931.9L1353.3 930.3L1355.1 928.7L1356.9 927.2L1358.8 925.7L1360.7 924.3L1362.7 922.9L1364.7 921.6L1366.7 920.3L1368.8 919.1L1370.8 917.9L1373.0 916.8L1375.1 915.7L1377.3 914.7L1379.5 913.8L1381.7 912.9L1384.0 912.0L1386.2 911.3L1388.5 910.6L1390.8 909.9L1393.1 909.3L1395.5 908.8L1397.8 908.3L1400.2 907.9L1402.6 907.6L1404.9 907.3L1407.3 907.1L1409.7 906.9L1412.1 906.8L1414.5 906.8L1416.9 906.8L1419.3 906.9L1420.5 907.2L1422.8 908.2L1425.1 909.2L1427.4 910.2L1429.6 911.3L1431.8 912.5L1434.0 913.7L1436.2 915.0L1438.3 916.4L1440.3 917.8L1442.4 919.2L1444.4 920.8L1446.4 922.3L1448.3 923.9L1450.2 925.6L1452.0 927.3L1453.8 929.1L1455.5 930.9L1457.2 932.8L1458.9 934.7L1460.5 936.6L1462.0 938.6L1463.5 940.6L1465.0 942.7L1466.4 944.8L1467.7 946.9L1469.0 949.1L1470.2 951.3L1471.4 953.5L1472.5 955.8L1473.5 958.1L1474.5 960.4L1475.5 962.8L1476.3 965.2L1477.1 967.5L1477.9 970.0L1478.5 972.4L1479.2 974.8L1479.7 977.3L1480.2 979.8L1480.6 982.3L1481.0 984.8L1481.3 987.3L1481.5 989.8L1481.7 992.3L1481.8 994.9L1481.8 997.4L1481.8 999.9L1481.7 1002.5L1480.9 1004.9L1480.1 1007.3L1479.1 1009.6L1478.1 1012.0L1477.1 1014.3L1475.9 1016.6L1474.7 1018.8L1473.5 1021.0L1472.2 1023.2L1470.9 1025.4L1469.4 1027.5L1468.0 1029.6L1466.5 1031.6L1464.9 1033.6L1463.3 1035.6L1461.6 1037.5L1459.9 1039.4L1458.1 1041.2L1456.3 1043.0L1454.4 1044.7L1452.5 1046.4L1450.5 1048.0L1448.5 1049.6L1446.5 1051.1L1444.4 1052.6L1442.3 1054.0L1440.2 1055.4L1438.0 1056.7L1435.8 1057.9L1433.5 1059.1L1431.3 1060.2L1429.0 1061.3L1426.6 1062.3L1424.3 1063.2L1421.9 1064.1L1419.5 1064.9L1417.0 1065.7L1414.6 1066.4L1412.1 1067.0L1409.7 1067.6L1407.2 1068.1L1404.7 1068.5L1402.2 1068.9L1399.6 1069.2L1397.1 1069.4L1394.6 1069.6L1392.0 1069.7L1389.5 1069.7L1387.0 1069.7L1384.4 1069.6L1381.9 1069.4L1379.4 1069.2L1376.8 1068.9L1374.3 1068.5L1371.8 1068.1L1369.3 1067.6L1366.9 1067.0L1364.4 1066.4L1362.0 1065.7L1359.5 1064.9L1357.1 1064.1L1354.7 1063.2L1352.4 1062.3L1350.0 1061.3L1347.7 1060.2L1346.5 1059.5L1344.9 1057.7L1343.4 1055.9L1341.9 1054.0L1340.5 1052.1L1339.1 1050.1L1337.8 1048.1L1336.5 1046.1L1335.3 1044.0L1334.1 1042.0L1333.0 1039.8L1331.9 1037.7L1330.9 1035.5L1330.0 1033.3L1329.1 1031.1L1328.2 1028.8L1327.5 1026.6L1326.8 1024.3L1326.1 1022.0L1325.5 1019.7L1325.0 1017.3L1324.5 1015.0L1324.1 1012.6L1323.8 1010.2L1323.5 1007.9L1323.3 1005.5L1323.1 1003.1L1323.0 1000.7L1323.0 998.3L1323.0 995.9L1323.1 993.5L1323.3 991.1Z" fill="#d9f0d0"/>
<ellipse cx="1389.5" cy="972.4" rx="97" ry="97.3" fill="none" stroke="#000" stroke-width="1.7"/>
<ellipse cx="1386.2" cy="997.4" rx="95.6" ry="96.6" fill="none" stroke="#000" stroke-width="1.7"/>
<ellipse cx="1414.5" cy="998.3" rx="91.5" ry="91.5" fill="none" stroke="#000" stroke-width="1.7"/>
<text x="1306.60" y="861.80" font-size="27.4" textLength="175" lengthAdjust="spacing">ROCR1−rep1</text>
<text x="1392.10" y="895.57" font-size="16.4" text-anchor="middle" class="vc">90</text>
<text x="1308.80" y="989.87" font-size="16.4" text-anchor="middle" class="vc">107</text>
<text x="1404.10" y="1001.77" font-size="16.4" text-anchor="middle" class="vc">468</text>
<text x="1340.50" y="1075.57" font-size="16.4" text-anchor="middle" class="vc">40</text>
<text x="1417.80" y="1082.57" font-size="16.4" text-anchor="middle" class="vc">66</text>
<text x="1505.40" y="928.77" font-size="16.4" text-anchor="middle" class="vc">45</text>
<text x="1535.00" y="1015.37" font-size="16.4" text-anchor="middle" class="vc">55</text>
<text x="1467.50" y="906.60" font-size="19.6" textLength="114.5" lengthAdjust="spacing" class="vb">Magic−Blast</text>
<text x="1230.40" y="1080.80" font-size="19.6" textLength="71.3" lengthAdjust="spacing" class="vb">HISAT2</text>
<text x="1490.00" y="1078.80" font-size="19.6" textLength="53.5" lengthAdjust="spacing" class="vb">STAR</text>
<circle cx="1471.2" cy="933.5" r="0.9" fill="#333"/>
<line x1="1477.30" y1="930.00" x2="1491.70" y2="923.30" stroke="#000" stroke-width="1.9" stroke-dasharray="4.5 2.5"/>
<line x1="1495.70" y1="1006.50" x2="1521.00" y2="1006.50" stroke="#000" stroke-width="1.9" stroke-dasharray="4.5 2.5"/>
<ellipse cx="1788.4" cy="974.7" rx="98" ry="99.9" fill="#f5b9cc"/>
<ellipse cx="1784.4" cy="1000.1" rx="95.1" ry="93.8" fill="#f4f49e"/>
<ellipse cx="1812.9" cy="998.8" rx="91" ry="90.9" fill="#80f7f5"/>
<path d="M1691.2 987.7L1690.9 985.1L1690.9 983.0L1691.4 980.6L1691.9 978.2L1692.5 975.8L1693.2 973.5L1694.0 971.1L1694.8 968.8L1695.6 966.5L1696.5 964.2L1697.5 961.9L1698.6 959.7L1699.7 957.5L1700.8 955.3L1702.0 953.2L1703.3 951.1L1704.6 949.0L1706.0 947.0L1707.5 945.0L1709.0 943.0L1710.5 941.1L1712.1 939.2L1713.7 937.3L1715.4 935.5L1717.2 933.8L1718.9 932.1L1720.8 930.4L1722.6 928.8L1724.6 927.2L1726.5 925.7L1728.5 924.2L1730.5 922.8L1732.6 921.4L1734.7 920.1L1736.9 918.9L1739.0 917.7L1741.2 916.5L1743.5 915.4L1745.7 914.4L1748.0 913.4L1750.3 912.5L1752.7 911.7L1755.0 910.9L1757.4 910.2L1759.8 909.5L1762.2 908.9L1764.6 908.3L1767.1 907.9L1769.5 907.5L1772.0 907.1L1774.5 906.8L1776.9 906.6L1779.4 906.4L1781.9 906.3L1784.4 906.3L1786.9 906.3L1789.4 906.4L1791.9 906.6L1794.3 906.8L1796.8 907.1L1799.3 907.5L1801.7 907.9L1804.2 908.3L1806.6 908.9L1809.0 909.5L1811.4 910.2L1813.8 910.9L1816.1 911.7L1818.5 912.5L1820.8 913.4L1823.1 914.4L1825.3 915.4L1827.6 916.5L1829.8 917.7L1832.0 918.9L1834.1 920.1L1836.2 921.4L1838.3 922.8L1840.3 924.2L1842.3 925.7L1844.2 927.2L1846.2 928.8L1848.0 930.4L1849.9 932.1L1851.6 933.8L1853.4 935.5L1855.1 937.3L1856.7 939.2L1858.3 941.1L1859.8 943.0L1861.3 945.0L1862.8 947.0L1864.2 949.0L1865.5 951.1L1866.8 953.2L1868.0 955.3L1869.1 957.5L1870.2 959.7L1871.3 961.9L1872.3 964.2L1873.2 966.5L1874.0 968.8L1874.8 971.1L1875.6 973.5L1876.3 975.8L1876.9 978.2L1877.4 980.6L1877.9 983.0L1878.3 985.4L1878.7 987.9L1879.0 990.3L1879.2 992.7L1879.4 995.2L1879.5 997.6L1879.5 1000.1L1879.5 1002.6L1879.4 1005.0L1879.2 1007.5L1879.0 1009.9L1878.7 1012.3L1877.9 1015.3L1876.9 1017.7L1875.7 1020.1L1874.5 1022.4L1873.3 1024.7L1872.0 1026.9L1870.6 1029.1L1869.2 1031.3L1867.7 1033.4L1866.1 1035.5L1864.6 1037.6L1862.9 1039.6L1861.2 1041.5L1859.5 1043.5L1857.7 1045.3L1855.9 1047.2L1854.0 1048.9L1852.0 1050.7L1850.1 1052.3L1848.1 1054.0L1846.0 1055.5L1843.9 1057.0L1841.8 1058.5L1839.6 1059.9L1837.4 1061.2L1835.2 1062.5L1832.9 1063.7L1830.6 1064.9L1828.3 1066.0L1825.9 1067.0L1823.5 1068.0L1821.1 1068.9L1818.7 1069.7L1816.2 1070.5L1813.8 1071.2L1811.3 1071.8L1808.8 1072.4L1806.3 1072.9L1803.7 1073.4L1801.2 1073.7L1798.6 1074.1L1796.1 1074.3L1793.5 1074.5L1791.0 1074.6L1788.4 1074.6L1785.8 1074.6L1783.3 1074.5L1780.7 1074.3L1778.2 1074.1L1775.6 1073.7L1773.1 1073.4L1770.5 1072.9L1768.0 1072.4L1765.5 1071.8L1763.0 1071.2L1760.6 1070.5L1758.1 1069.7L1755.7 1068.9L1753.3 1068.0L1750.9 1067.0L1748.5 1066.0L1746.2 1064.9L1743.9 1063.7L1741.6 1062.5L1739.4 1061.2L1737.2 1059.9L1735.0 1058.5L1732.9 1057.0L1730.8 1055.5L1728.7 1054.0L1726.7 1052.3L1724.8 1050.7L1722.8 1048.9L1720.9 1047.2L1719.1 1045.3L1717.3 1043.5L1715.6 1041.5L1713.9 1039.6L1712.2 1037.6L1710.7 1035.5L1709.1 1033.4L1707.6 1031.3L1706.2 1029.1L1704.8 1026.9L1703.5 1024.7L1702.3 1022.4L1701.1 1020.1L1699.9 1017.7L1698.9 1015.3L1697.9 1012.9L1696.9 1010.5L1696.0 1008.0L1695.2 1005.6L1694.4 1003.1L1693.7 1000.6L1693.1 998.0L1692.5 995.5L1692.0 992.9L1691.6 990.3Z" fill="#f7d5b6"/>
<path d="M1722.7 986.9L1723.0 984.6L1723.4 982.2L1723.9 979.9L1724.4 977.6L1725.0 975.3L1725.6 973.0L1726.4 970.7L1727.1 968.5L1727.9 966.2L1728.8 964.0L1729.8 961.8L1730.8 959.7L1731.8 957.5L1732.9 955.4L1734.1 953.4L1735.3 951.3L1736.6 949.3L1737.9 947.3L1739.3 945.4L1740.7 943.5L1742.2 941.6L1743.7 939.8L1745.3 938.0L1746.9 936.2L1748.6 934.5L1750.3 932.9L1752.0 931.2L1753.8 929.7L1755.6 928.2L1757.5 926.7L1759.4 925.3L1761.4 923.9L1763.3 922.6L1765.4 921.3L1767.4 920.1L1769.5 918.9L1771.6 917.8L1773.7 916.8L1775.9 915.8L1778.1 914.8L1780.3 913.9L1782.5 913.1L1784.8 912.3L1787.1 911.6L1789.3 911.0L1791.7 910.4L1794.0 909.9L1796.3 909.4L1798.7 909.0L1801.0 908.7L1803.4 908.4L1805.8 908.2L1808.1 908.0L1810.5 907.9L1812.9 907.9L1815.3 907.9L1817.7 908.0L1820.0 908.2L1822.4 908.4L1824.8 908.7L1827.1 909.0L1829.5 909.4L1831.8 909.9L1834.1 910.4L1836.5 911.0L1838.7 911.6L1841.0 912.3L1843.3 913.1L1845.5 913.9L1847.7 914.8L1849.9 915.8L1852.1 916.8L1854.2 917.8L1856.3 918.9L1858.4 920.1L1860.4 921.3L1862.5 922.6L1864.4 923.9L1866.4 925.3L1868.3 926.7L1870.2 928.2L1872.0 929.7L1873.8 931.2L1875.5 932.9L1877.2 934.5L1878.9 936.5L1879.9 938.9L1880.8 941.4L1881.6 943.8L1882.4 946.3L1883.1 948.8L1883.7 951.4L1884.3 953.9L1884.8 956.5L1885.2 959.1L1885.6 961.7L1885.9 964.3L1886.1 966.9L1886.3 969.5L1886.4 972.1L1886.4 974.7L1886.4 977.3L1886.3 979.9L1886.1 982.5L1885.9 985.1L1885.6 987.7L1885.2 990.3L1884.8 992.9L1884.3 995.5L1883.7 998.0L1883.1 1000.6L1882.4 1003.1L1881.6 1005.6L1880.8 1008.0L1879.9 1010.5L1878.9 1012.9L1877.9 1015.3L1876.9 1017.7L1875.7 1020.1L1874.5 1022.4L1873.3 1024.7L1872.0 1026.9L1870.6 1029.1L1869.2 1031.3L1867.7 1033.4L1866.1 1035.5L1864.6 1037.6L1862.9 1039.6L1861.2 1041.5L1859.5 1043.5L1857.7 1045.3L1855.9 1047.2L1854.0 1048.9L1852.0 1050.7L1850.1 1052.3L1848.1 1054.0L1846.0 1055.5L1843.9 1057.0L1841.8 1058.5L1839.6 1059.9L1837.4 1061.2L1835.2 1062.5L1832.9 1063.7L1830.6 1064.9L1828.3 1066.0L1825.9 1067.0L1823.5 1068.0L1821.1 1068.9L1818.7 1069.7L1816.2 1070.5L1813.8 1071.2L1811.3 1071.8L1808.8 1072.4L1806.3 1072.9L1803.7 1073.4L1801.2 1073.7L1798.6 1074.1L1796.1 1074.3L1793.5 1074.5L1791.0 1074.6L1788.4 1074.6L1785.8 1074.6L1783.3 1074.5L1780.7 1074.3L1778.2 1074.1L1775.6 1073.7L1773.1 1073.4L1770.5 1072.9L1768.0 1072.4L1765.5 1071.8L1763.0 1071.2L1760.6 1070.5L1758.1 1069.7L1755.7 1068.9L1753.8 1067.9L1752.0 1066.4L1750.3 1064.7L1748.6 1063.1L1746.9 1061.4L1745.3 1059.6L1743.7 1057.8L1742.2 1056.0L1740.7 1054.1L1739.3 1052.2L1737.9 1050.3L1736.6 1048.3L1735.3 1046.3L1734.1 1044.2L1732.9 1042.2L1731.8 1040.1L1730.8 1037.9L1729.8 1035.8L1728.8 1033.6L1727.9 1031.4L1727.1 1029.1L1726.4 1026.9L1725.6 1024.6L1725.0 1022.3L1724.4 1020.0L1723.9 1017.7L1723.4 1015.4L1723.0 1013.0L1722.7 1010.7L1722.4 1008.3L1722.2 1005.9L1722.0 1003.6L1721.9 1001.2L1721.9 998.8L1721.9 996.4L1722.0 994.0L1722.2 991.7L1722.4 989.3Z" fill="#caeef0"/>
<path d="M1721.9 998.8L1721.9 996.4L1722.0 994.0L1722.2 991.7L1722.4 989.3L1722.7 986.9L1723.0 984.6L1723.4 982.2L1723.9 979.9L1724.4 977.6L1725.0 975.3L1725.6 973.0L1726.4 970.7L1727.1 968.5L1727.9 966.2L1728.8 964.0L1729.8 961.8L1730.8 959.7L1731.8 957.5L1732.9 955.4L1734.1 953.4L1735.3 951.3L1736.6 949.3L1737.9 947.3L1739.3 945.4L1740.7 943.5L1742.2 941.6L1743.7 939.8L1745.3 938.0L1746.9 936.2L1748.6 934.5L1750.3 932.9L1752.0 931.2L1753.8 929.7L1755.6 928.2L1757.5 926.7L1759.4 925.3L1761.4 923.9L1763.3 922.6L1765.4 921.3L1767.4 920.1L1769.5 918.9L1771.6 917.8L1773.7 916.8L1775.9 915.8L1778.1 914.8L1780.3 913.9L1782.5 913.1L1784.8 912.3L1787.1 911.6L1789.3 911.0L1791.7 910.4L1794.0 909.9L1796.3 909.4L1798.7 909.0L1801.0 908.7L1803.4 908.4L1804.2 908.3L1806.6 908.9L1809.0 909.5L1811.4 910.2L1813.8 910.9L1816.1 911.7L1818.5 912.5L1820.8 913.4L1823.1 914.4L1825.3 915.4L1827.6 916.5L1829.8 917.7L1832.0 918.9L1834.1 920.1L1836.2 921.4L1838.3 922.8L1840.3 924.2L1842.3 925.7L1844.2 927.2L1846.2 928.8L1848.0 930.4L1849.9 932.1L1851.6 933.8L1853.4 935.5L1855.1 937.3L1856.7 939.2L1858.3 941.1L1859.8 943.0L1861.3 945.0L1862.8 947.0L1864.2 949.0L1865.5 951.1L1866.8 953.2L1868.0 955.3L1869.1 957.5L1870.2 959.7L1871.3 961.9L1872.3 964.2L1873.2 966.5L1874.0 968.8L1874.8 971.1L1875.6 973.5L1876.3 975.8L1876.9 978.2L1877.4 980.6L1877.9 983.0L1878.3 985.4L1878.7 987.9L1879.0 990.3L1879.2 992.7L1879.4 995.2L1879.5 997.6L1879.5 1000.1L1879.5 1002.6L1879.4 1005.0L1879.2 1007.5L1879.0 1009.9L1878.7 1012.3L1878.3 1014.8L1877.9 1017.2L1877.4 1019.6L1876.9 1022.0L1876.3 1024.4L1875.6 1026.7L1874.8 1029.1L1874.0 1031.4L1873.2 1033.7L1872.3 1036.0L1871.3 1038.3L1870.2 1040.5L1869.1 1042.7L1868.0 1044.9L1866.8 1047.0L1865.5 1049.1L1864.2 1051.2L1862.8 1053.2L1861.3 1055.2L1859.8 1057.2L1858.3 1059.1L1856.7 1061.0L1855.1 1062.9L1853.4 1064.7L1851.6 1066.4L1849.9 1068.1L1848.0 1069.8L1846.2 1071.4L1844.2 1073.0L1842.3 1074.5L1840.3 1076.0L1838.3 1077.4L1836.2 1078.8L1834.1 1080.1L1832.0 1081.3L1829.8 1082.5L1827.6 1083.7L1825.3 1084.8L1823.1 1085.8L1820.8 1086.8L1818.5 1087.7L1816.1 1088.5L1813.8 1089.3L1810.5 1089.7L1808.1 1089.6L1805.8 1089.4L1803.4 1089.2L1801.0 1088.9L1798.7 1088.6L1796.3 1088.2L1794.0 1087.7L1791.7 1087.2L1789.3 1086.6L1787.1 1086.0L1784.8 1085.3L1782.5 1084.5L1780.3 1083.7L1778.1 1082.8L1775.9 1081.8L1773.7 1080.8L1771.6 1079.8L1769.5 1078.7L1767.4 1077.5L1765.4 1076.3L1763.3 1075.0L1761.4 1073.7L1759.4 1072.3L1757.5 1070.9L1755.6 1069.4L1753.8 1067.9L1752.0 1066.4L1750.3 1064.7L1748.6 1063.1L1746.9 1061.4L1745.3 1059.6L1743.7 1057.8L1742.2 1056.0L1740.7 1054.1L1739.3 1052.2L1737.9 1050.3L1736.6 1048.3L1735.3 1046.3L1734.1 1044.2L1732.9 1042.2L1731.8 1040.1L1730.8 1037.9L1729.8 1035.8L1728.8 1033.6L1727.9 1031.4L1727.1 1029.1L1726.4 1026.9L1725.6 1024.6L1725.0 1022.3L1724.4 1020.0L1723.9 1017.7L1723.4 1015.4L1723.0 1013.0L1722.7 1010.7L1722.4 1008.3L1722.2 1005.9L1722.0 1003.6L1721.9 1001.2Z" fill="#bcf7dc"/>
<path d="M1722.2 991.7L1722.4 989.3L1722.7 986.9L1723.0 984.6L1723.4 982.2L1723.9 979.9L1724.4 977.6L1725.0 975.3L1725.6 973.0L1726.4 970.7L1727.1 968.5L1727.9 966.2L1728.8 964.0L1729.8 961.8L1730.8 959.7L1731.8 957.5L1732.9 955.4L1734.1 953.4L1735.3 951.3L1736.6 949.3L1737.9 947.3L1739.3 945.4L1740.7 943.5L1742.2 941.6L1743.7 939.8L1745.3 938.0L1746.9 936.2L1748.6 934.5L1750.3 932.9L1752.0 931.2L1753.8 929.7L1755.6 928.2L1757.5 926.7L1759.4 925.3L1761.4 923.9L1763.3 922.6L1765.4 921.3L1767.4 920.1L1769.5 918.9L1771.6 917.8L1773.7 916.8L1775.9 915.8L1778.1 914.8L1780.3 913.9L1782.5 913.1L1784.8 912.3L1787.1 911.6L1789.3 911.0L1791.7 910.4L1794.0 909.9L1796.3 909.4L1798.7 909.0L1801.0 908.7L1803.4 908.4L1804.2 908.3L1806.6 908.9L1809.0 909.5L1811.4 910.2L1813.8 910.9L1816.1 911.7L1818.5 912.5L1820.8 913.4L1823.1 914.4L1825.3 915.4L1827.6 916.5L1829.8 917.7L1832.0 918.9L1834.1 920.1L1836.2 921.4L1838.3 922.8L1840.3 924.2L1842.3 925.7L1844.2 927.2L1846.2 928.8L1848.0 930.4L1849.9 932.1L1851.6 933.8L1853.4 935.5L1855.1 937.3L1856.7 939.2L1858.3 941.1L1859.8 943.0L1861.3 945.0L1862.8 947.0L1864.2 949.0L1865.5 951.1L1866.8 953.2L1868.0 955.3L1869.1 957.5L1870.2 959.7L1871.3 961.9L1872.3 964.2L1873.2 966.5L1874.0 968.8L1874.8 971.1L1875.6 973.5L1876.3 975.8L1876.9 978.2L1877.4 980.6L1877.9 983.0L1878.3 985.4L1878.7 987.9L1879.0 990.3L1879.2 992.7L1879.4 995.2L1879.5 997.6L1879.5 1000.1L1879.5 1002.6L1879.4 1005.0L1879.2 1007.5L1879.0 1009.9L1878.7 1012.3L1877.9 1015.3L1876.9 1017.7L1875.7 1020.1L1874.5 1022.4L1873.3 1024.7L1872.0 1026.9L1870.6 1029.1L1869.2 1031.3L1867.7 1033.4L1866.1 1035.5L1864.6 1037.6L1862.9 1039.6L1861.2 1041.5L1859.5 1043.5L1857.7 1045.3L1855.9 1047.2L1854.0 1048.9L1852.0 1050.7L1850.1 1052.3L1848.1 1054.0L1846.0 1055.5L1843.9 1057.0L1841.8 1058.5L1839.6 1059.9L1837.4 1061.2L1835.2 1062.5L1832.9 1063.7L1830.6 1064.9L1828.3 1066.0L1825.9 1067.0L1823.5 1068.0L1821.1 1068.9L1818.7 1069.7L1816.2 1070.5L1813.8 1071.2L1811.3 1071.8L1808.8 1072.4L1806.3 1072.9L1803.7 1073.4L1801.2 1073.7L1798.6 1074.1L1796.1 1074.3L1793.5 1074.5L1791.0 1074.6L1788.4 1074.6L1785.8 1074.6L1783.3 1074.5L1780.7 1074.3L1778.2 1074.1L1775.6 1073.7L1773.1 1073.4L1770.5 1072.9L1768.0 1072.4L1765.5 1071.8L1763.0 1071.2L1760.6 1070.5L1758.1 1069.7L1755.7 1068.9L1753.8 1067.9L1752.0 1066.4L1750.3 1064.7L1748.6 1063.1L1746.9 1061.4L1745.3 1059.6L1743.7 1057.8L1742.2 1056.0L1740.7 1054.1L1739.3 1052.2L1737.9 1050.3L1736.6 1048.3L1735.3 1046.3L1734.1 1044.2L1732.9 1042.2L1731.8 1040.1L1730.8 1037.9L1729.8 1035.8L1728.8 1033.6L1727.9 1031.4L1727.1 1029.1L1726.4 1026.9L1725.6 1024.6L1725.0 1022.3L1724.4 1020.0L1723.9 1017.7L1723.4 1015.4L1723.0 1013.0L1722.7 1010.7L1722.4 1008.3L1722.2 1005.9L1722.0 1003.6L1721.9 1001.2L1721.9 998.8L1721.9 996.4L1722.0 994.0Z" fill="#d9f0d0"/>
<ellipse cx="1788.4" cy="974.7" rx="98" ry="99.9" fill="none" stroke="#000" stroke-width="1.7"/>
<ellipse cx="1784.4" cy="1000.1" rx="95.1" ry="93.8" fill="none" stroke="#000" stroke-width="1.7"/>
<ellipse cx="1812.9" cy="998.8" rx="91" ry="90.9" fill="none" stroke="#000" stroke-width="1.7"/>
<text x="1703.70" y="861.80" font-size="27.4" textLength="175" lengthAdjust="spacing">ROCR1−rep1</text>
<text x="1793.90" y="896.47" font-size="16.4" text-anchor="middle" class="vc">180</text>
<text x="1706.60" y="991.57" font-size="16.4" text-anchor="middle" class="vc">187</text>
<text x="1801.10" y="1001.77" font-size="16.4" text-anchor="middle" class="vc">804</text>
<text x="1741.30" y="1079.47" font-size="16.4" text-anchor="middle" class="vc">69</text>
<text x="1805.80" y="1087.67" font-size="16.4" text-anchor="middle" class="vc">86</text>
<text x="1910.50" y="939.37" font-size="16.4" text-anchor="middle" class="vc">96</text>
<text x="1929.00" y="1039.37" font-size="16.4" text-anchor="middle" class="vc">92</text>
<text x="1874.50" y="906.20" font-size="19.6" textLength="114.5" lengthAdjust="spacing" class="vb">Magic−Blast</text>
<text x="1627.80" y="1079.60" font-size="19.6" textLength="71.3" lengthAdjust="spacing" class="vb">HISAT2</text>
<text x="1893.00" y="1078.60" font-size="19.6" textLength="53.5" lengthAdjust="spacing" class="vb">STAR</text>
<circle cx="1876.7" cy="946.4" r="0.9" fill="#333"/>
<line x1="1882.50" y1="942.30" x2="1897.80" y2="935.60" stroke="#000" stroke-width="1.9" stroke-dasharray="4.5 2.5"/>
<line x1="1888.60" y1="1033.10" x2="1912.10" y2="1033.10" stroke="#000" stroke-width="1.9" stroke-dasharray="4.5 2.5"/>
<text transform="translate(1389.30 1143.00) scale(1.16 1)" font-size="17.6" textLength="390.9" lengthAdjust="spacing" class="vb">KP variants detected in each panel based on</text>
<text transform="translate(1389.30 1165.70) scale(1.16 1)" font-size="17.6" textLength="394.0" lengthAdjust="spacing" class="vb">the three aligners (controlling FPRs to 5Mbp)</text>
</g>
</svg>
</body>
</html>
